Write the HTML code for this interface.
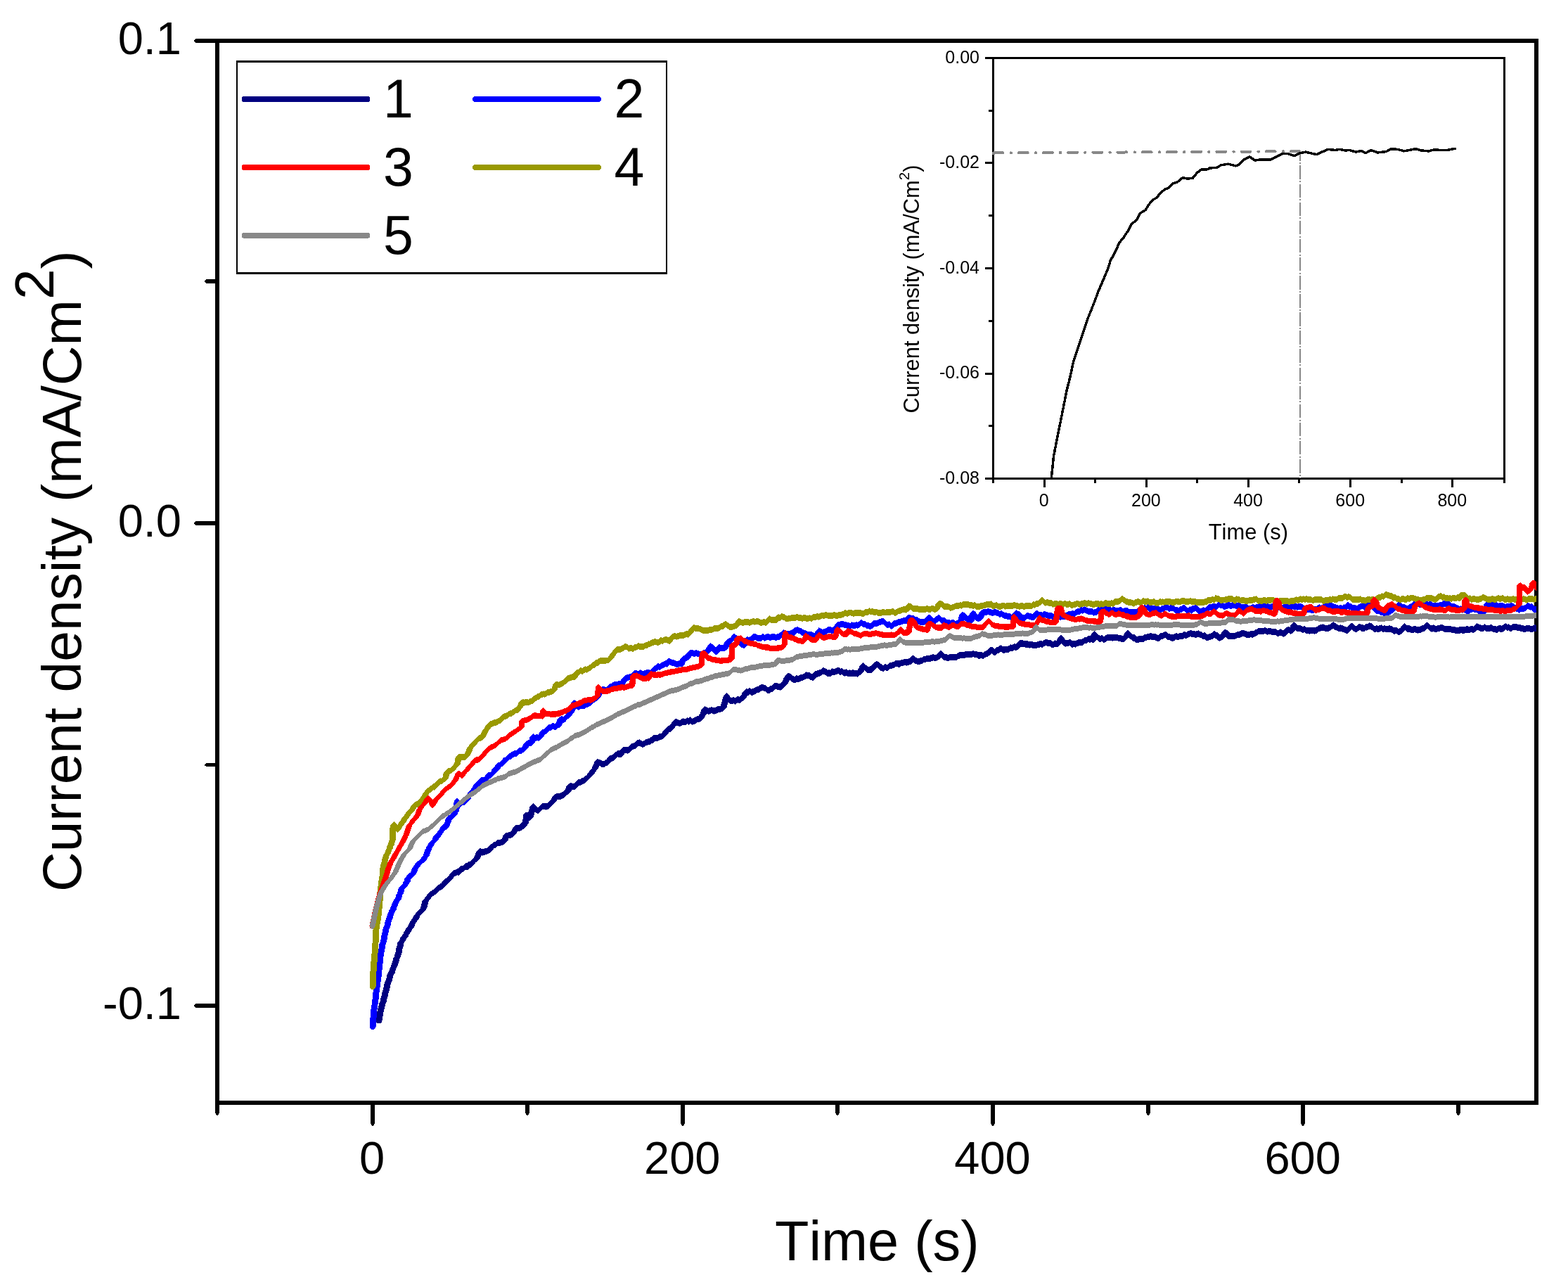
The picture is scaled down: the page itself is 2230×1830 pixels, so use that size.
<!DOCTYPE html>
<html lang="en">
<head>
<meta charset="utf-8">
<title>Current density vs. time</title>
<style>
html,body{margin:0;padding:0;background:#fff;}
body{width:2230px;height:1830px;overflow:hidden;}
svg{display:block;}
text{font-family:"Liberation Sans", sans-serif;fill:#000;font-kerning:none;}
.tk{font-size:65px;}
.ttl{font-size:79.3px;}
.ytl{font-size:78.5px;}
.lg{font-size:77px;}
.itk{font-size:25px;}
.ittl{font-size:30.9px;}
</style>
</head>
<body>
<svg width="2230" height="1830" viewBox="0 0 2230 1830" role="img" aria-label="Current density versus time for samples 1 to 5, with inset">
<rect x="0" y="0" width="2230" height="1830" fill="#ffffff"/>
<g id="main-axes" fill="#000" stroke="none" shape-rendering="crispEdges">
<rect x="306" y="55" width="1882" height="6"/><rect x="306" y="1565" width="1882" height="6"/><rect x="306" y="55" width="6" height="1516"/><rect x="2182" y="55" width="6" height="1516"/>
<rect x="278" y="55" width="31" height="6"/><rect x="276.5" y="56" width="1.5" height="4"/><rect x="275.5" y="57" width="1" height="2"/>
<rect x="293" y="397" width="16" height="6"/><rect x="291.5" y="398" width="1.5" height="4"/><rect x="290.5" y="399" width="1" height="2"/>
<rect x="278" y="741" width="31" height="6"/><rect x="276.5" y="742" width="1.5" height="4"/><rect x="275.5" y="743" width="1" height="2"/>
<rect x="293" y="1085" width="16" height="5"/><rect x="291.5" y="1086" width="1.5" height="3"/><rect x="290.5" y="1086.5" width="1" height="2"/>
<rect x="278" y="1427" width="31" height="6"/><rect x="276.5" y="1428" width="1.5" height="4"/><rect x="275.5" y="1429" width="1" height="2"/>
<rect x="306" y="1568" width="6" height="15"/><rect x="307" y="1583" width="4" height="1.5"/><rect x="308" y="1584.5" width="2" height="1"/>
<rect x="527" y="1568" width="6" height="30"/><rect x="528" y="1598" width="4" height="1.5"/><rect x="529" y="1599.5" width="2" height="1"/>
<rect x="747" y="1568" width="6" height="15"/><rect x="748" y="1583" width="4" height="1.5"/><rect x="749" y="1584.5" width="2" height="1"/>
<rect x="968" y="1568" width="6" height="30"/><rect x="969" y="1598" width="4" height="1.5"/><rect x="970" y="1599.5" width="2" height="1"/>
<rect x="1188" y="1568" width="6" height="15"/><rect x="1189" y="1583" width="4" height="1.5"/><rect x="1190" y="1584.5" width="2" height="1"/>
<rect x="1409" y="1568" width="6" height="30"/><rect x="1410" y="1598" width="4" height="1.5"/><rect x="1411" y="1599.5" width="2" height="1"/>
<rect x="1630" y="1568" width="6" height="15"/><rect x="1631" y="1583" width="4" height="1.5"/><rect x="1632" y="1584.5" width="2" height="1"/>
<rect x="1850" y="1568" width="6" height="30"/><rect x="1851" y="1598" width="4" height="1.5"/><rect x="1852" y="1599.5" width="2" height="1"/>
<rect x="2071" y="1568" width="6" height="15"/><rect x="2072" y="1583" width="4" height="1.5"/><rect x="2073" y="1584.5" width="2" height="1"/>
</g>
<g id="main-tick-labels" class="tk">
<text x="258" y="77.3" text-anchor="end">0.1</text>
<text x="258" y="763.3" text-anchor="end">0.0</text>
<text x="258" y="1449.3" text-anchor="end">-0.1</text>
<text x="529.1" y="1669" text-anchor="middle">0</text>
<text x="970.3" y="1669" text-anchor="middle">200</text>
<text x="1411.5" y="1669" text-anchor="middle">400</text>
<text x="1852.7" y="1669" text-anchor="middle">600</text>
</g>
<text class="ttl" x="1247.3" y="1791.5" text-anchor="middle">Time (s)</text>
<text class="ytl" transform="translate(114.7,1268) rotate(-90)" x="0" y="0">Current density (mA/Cm<tspan dy="-39">2</tspan><tspan dy="39">)</tspan></text>
<g id="curves" stroke="none" fill-rule="evenodd" shape-rendering="crispEdges">
<path id="c-navy" fill="#000080" d="M597.1 1292.3L595.9 1293.2L591.3 1297.8L590.4 1299.8L589.0 1301.2L587.9 1303.1L586.9 1305.6L585.6 1306.9L584.5 1308.6L581.1 1314.4L580.4 1316.7L577.9 1319.2L576.8 1320.9L576.2 1323.1L574.7 1324.6L573.6 1327.8L572.5 1329.0L571.3 1331.6L569.1 1333.8L568.1 1336.9L565.4 1340.0L564.6 1345.0L563.7 1346.9L562.5 1354.4L561.8 1355.5L561.1 1359.5L560.5 1360.7L559.7 1361.5L558.3 1367.0L557.6 1368.4L556.9 1372.0L556.2 1372.7L555.5 1375.2L554.4 1377.0L553.0 1381.9L551.9 1383.0L551.1 1384.6L550.4 1386.7L548.9 1393.3L548.2 1395.2L547.4 1396.0L547.0 1398.4L546.4 1399.0L545.9 1402.5L544.4 1408.5L543.9 1409.4L542.6 1416.0L541.9 1416.7L540.8 1423.4L540.5 1424.5L539.7 1425.3L538.6 1430.1L538.1 1431.0L537.0 1436.9L536.4 1438.0L536.1 1441.0L535.7 1441.5L534.4 1451.0L535.3 1453.4L535.9 1454.1L537.3 1455.1L539.0 1455.6L540.7 1455.1L542.1 1454.1L543.1 1452.7L543.6 1451.0L545.6 1438.0L546.2 1436.9L547.3 1431.0L547.8 1430.1L548.8 1426.0L549.5 1425.3L550.0 1423.4L551.0 1417.6L551.6 1417.0L553.1 1409.4L553.6 1408.5L555.1 1402.5L555.6 1399.3L556.1 1398.7L556.6 1396.1L557.4 1395.4L558.1 1393.3L559.6 1386.7L560.3 1384.8L561.9 1383.2L562.6 1380.0L563.6 1377.0L564.7 1375.2L565.4 1372.9L566.1 1372.2L566.8 1368.4L567.5 1367.0L568.9 1361.6L569.6 1360.9L570.3 1359.5L571.0 1355.5L571.7 1354.4L572.9 1346.9L573.8 1345.0L574.6 1340.0L577.1 1337.5L578.1 1334.5L579.6 1333.0L580.7 1331.4L581.7 1329.0L582.8 1327.8L583.3 1326.2L585.0 1324.6L585.8 1321.5L588.2 1319.2L589.3 1317.7L590.3 1314.4L593.7 1308.6L595.9 1306.1L597.1 1303.1L597.7 1302.0L599.3 1300.4L599.7 1299.6L604.9 1294.6L606.5 1292.0L607.2 1290.8L609.8 1281.2L612.2 1278.8L613.7 1276.0L615.4 1274.4L617.0 1273.4L618.9 1271.6L620.3 1271.6L625.1 1266.8L626.8 1265.4L628.5 1265.1L633.1 1260.5L633.9 1259.3L635.2 1258.0L638.8 1255.0L643.4 1250.4L644.6 1248.4L646.5 1246.2L647.5 1246.0L650.0 1244.4L652.6 1244.8L657.0 1240.4L658.0 1240.6L660.4 1238.3L662.7 1236.5L665.0 1237.0L668.0 1234.0L669.2 1234.0L671.3 1232.3L675.9 1227.7L676.6 1226.3L677.5 1226.1L682.1 1221.5L682.9 1219.6L684.0 1218.5L684.7 1215.8L686.9 1216.7L690.8 1215.0L692.7 1215.0L694.7 1213.6L696.2 1213.1L700.8 1208.5L702.8 1205.8L704.8 1206.1L707.9 1203.1L709.5 1202.7L711.8 1202.7L716.0 1201.1L718.1 1199.5L722.7 1194.9L723.4 1192.4L724.3 1191.7L726.6 1191.8L730.1 1189.5L734.7 1184.9L735.6 1182.5L738.9 1182.4L741.5 1180.8L743.8 1178.5L744.6 1178.9L749.2 1174.3L752.3 1170.0L752.6 1166.2L753.9 1166.8L759.1 1161.4L759.7 1157.4L760.6 1154.5L761.7 1155.4L763.2 1155.7L764.8 1157.4L766.4 1156.6L771.8 1151.1L773.7 1151.0L776.3 1151.7L778.9 1151.2L785.0 1145.2L791.3 1138.8L792.7 1137.1L796.6 1137.2L799.2 1135.6L801.0 1135.4L805.9 1130.5L806.6 1130.4L808.5 1129.4L813.1 1124.8L813.4 1122.8L816.3 1123.1L818.3 1122.3L823.3 1117.3L824.1 1116.9L826.1 1116.7L828.0 1115.3L831.9 1113.8L842.7 1102.9L844.1 1100.9L846.2 1098.9L847.7 1096.2L850.8 1092.4L852.0 1089.5L853.8 1089.4L855.6 1090.7L857.7 1091.0L859.8 1091.0L861.8 1089.2L863.8 1089.0L869.6 1082.9L871.7 1082.3L873.8 1080.8L877.4 1077.2L878.5 1076.4L881.1 1076.7L883.7 1076.7L888.3 1072.1L888.6 1071.2L890.9 1070.9L893.0 1072.0L898.9 1066.2L902.9 1065.0L905.0 1063.9L908.0 1060.9L909.4 1060.5L911.7 1062.2L914.1 1063.0L916.4 1061.9L918.3 1060.1L920.2 1060.2L922.0 1058.9L923.9 1059.5L926.1 1057.2L927.7 1057.5L931.1 1054.1L935.4 1054.3L937.3 1052.7L939.2 1051.8L941.1 1051.8L944.5 1048.8L950.6 1042.7L951.8 1040.6L953.8 1040.8L959.7 1034.9L960.4 1032.8L961.6 1031.6L962.7 1031.7L965.3 1032.8L967.9 1033.0L969.8 1031.3L971.6 1030.5L973.5 1031.0L975.4 1030.9L977.2 1029.1L979.6 1030.7L981.8 1028.5L984.3 1030.9L988.8 1029.0L991.0 1027.6L993.1 1026.8L995.3 1026.4L997.5 1025.2L1002.1 1020.6L1003.3 1017.0L1004.5 1015.8L1004.8 1014.7L1007.4 1015.9L1010.0 1015.1L1012.3 1014.0L1014.7 1015.6L1017.0 1015.4L1021.7 1013.1L1024.0 1012.9L1026.4 1011.9L1028.7 1011.2L1033.3 1006.6L1034.9 1000.0L1035.6 999.2L1035.7 998.7L1038.1 1001.1L1040.7 1001.0L1043.3 1000.3L1045.9 1001.8L1048.1 999.6L1050.2 999.4L1052.4 1000.3L1055.7 997.0L1056.8 997.2L1061.4 992.6L1062.1 990.3L1063.3 989.0L1063.8 989.3L1066.1 986.9L1068.5 988.7L1070.8 988.6L1076.7 985.4L1078.6 985.5L1080.9 983.2L1082.8 982.6L1084.8 981.6L1086.7 983.2L1088.6 983.3L1090.5 985.1L1092.3 986.4L1094.2 986.2L1096.6 983.9L1098.1 984.2L1102.3 980.0L1104.6 980.3L1109.8 981.6L1111.4 981.1L1120.6 972.0L1122.2 969.2L1122.8 966.7L1124.1 967.4L1126.6 969.9L1130.7 971.3L1132.9 969.3L1135.1 970.4L1137.2 969.1L1139.4 968.3L1141.8 967.8L1144.1 966.8L1146.5 964.6L1148.8 965.2L1150.7 964.8L1152.7 966.9L1154.6 967.5L1156.6 967.5L1161.2 963.0L1162.1 962.9L1164.2 961.9L1166.2 961.5L1168.6 960.1L1170.9 958.4L1175.1 960.2L1177.2 962.3L1179.1 961.3L1181.1 962.4L1183.7 959.7L1187.0 960.4L1189.1 959.0L1192.6 957.9L1195.1 960.4L1197.0 958.8L1199.0 960.7L1201.3 961.8L1203.7 960.6L1206.0 962.4L1208.3 961.5L1210.7 962.3L1213.0 961.5L1215.4 962.4L1217.7 962.3L1219.8 962.8L1222.8 959.8L1223.9 959.9L1228.5 955.3L1229.1 953.1L1231.7 955.7L1233.3 956.8L1235.4 957.0L1237.5 956.6L1239.5 956.8L1245.7 950.6L1246.1 949.7L1247.6 949.4L1251.6 953.5L1253.6 953.7L1256.2 955.3L1258.8 953.1L1261.4 954.5L1263.3 953.2L1265.3 951.2L1267.2 951.3L1271.5 949.8L1273.8 948.2L1276.4 948.3L1279.0 948.8L1281.6 947.4L1284.2 947.3L1286.8 945.7L1289.4 946.7L1291.5 945.8L1295.7 945.1L1299.2 941.6L1301.1 943.5L1303.1 944.1L1305.0 945.1L1307.1 945.4L1309.2 944.2L1311.3 944.3L1313.6 942.3L1316.0 942.1L1318.3 941.1L1320.6 941.2L1323.0 940.9L1325.3 939.8L1327.7 939.4L1330.0 940.4L1335.4 938.1L1338.6 935.0L1342.5 938.9L1347.1 939.7L1349.5 939.7L1351.8 938.9L1356.0 939.2L1358.1 938.9L1360.4 938.8L1362.7 937.1L1367.4 935.7L1370.0 936.1L1375.2 935.0L1379.6 935.4L1381.8 935.1L1384.0 934.2L1386.1 935.0L1388.7 934.9L1391.3 936.5L1393.9 936.5L1396.0 936.0L1398.1 937.0L1402.2 934.3L1404.3 934.1L1406.4 932.6L1410.2 928.9L1411.0 929.0L1413.7 931.8L1415.8 931.8L1418.3 929.3L1419.9 929.1L1422.0 927.2L1424.0 926.4L1426.2 928.5L1428.2 928.7L1430.6 927.8L1432.9 928.3L1435.3 927.3L1437.6 925.6L1439.9 926.0L1442.3 924.4L1444.6 924.9L1447.0 924.0L1451.5 919.5L1454.2 919.6L1458.9 920.6L1461.5 920.6L1464.1 921.7L1466.7 920.9L1469.3 921.8L1474.2 921.8L1478.9 920.6L1480.0 920.0L1482.3 920.9L1487.0 917.9L1489.4 918.5L1491.7 919.5L1494.0 919.1L1496.4 921.5L1498.7 920.8L1500.8 919.5L1502.9 920.2L1505.0 920.0L1509.6 915.4L1512.8 918.5L1515.3 919.6L1521.9 918.1L1524.7 920.9L1526.8 920.0L1529.4 920.7L1532.0 918.8L1538.5 917.9L1540.4 917.3L1542.4 915.4L1545.0 915.5L1547.6 913.2L1550.2 913.8L1552.5 913.0L1554.9 914.6L1559.5 909.8L1560.7 910.3L1562.7 912.3L1565.0 913.0L1567.3 911.8L1569.7 914.1L1572.0 913.0L1574.0 911.7L1575.9 910.9L1577.9 910.9L1579.8 910.7L1582.2 911.7L1584.5 911.0L1586.8 911.2L1589.2 910.7L1591.2 912.4L1593.3 911.9L1595.4 913.0L1597.5 913.3L1599.6 912.3L1605.1 906.6L1607.6 909.1L1609.4 909.9L1611.5 911.5L1613.3 911.5L1615.7 913.8L1618.3 914.0L1620.9 913.2L1623.5 913.0L1625.6 913.5L1627.9 911.2L1629.7 911.5L1632.1 909.7L1634.4 909.8L1636.7 909.4L1639.1 909.9L1643.0 910.3L1646.9 912.3L1648.7 911.6L1650.9 909.4L1652.5 909.4L1654.4 908.1L1657.6 907.1L1660.1 909.6L1662.1 909.9L1666.1 911.5L1668.2 911.7L1670.3 910.7L1672.6 909.0L1674.9 910.5L1677.3 909.4L1679.6 909.1L1682.0 909.6L1684.5 907.0L1686.6 908.3L1689.0 906.8L1691.1 906.3L1693.1 905.1L1695.2 906.0L1697.8 905.9L1700.4 907.1L1703.0 906.0L1705.0 905.6L1706.9 907.2L1708.9 907.2L1710.8 909.1L1713.3 908.3L1716.0 911.1L1718.6 910.7L1722.8 909.3L1724.8 908.4L1726.8 906.4L1729.0 908.7L1730.2 908.2L1732.6 910.7L1734.7 911.7L1738.9 909.9L1743.2 905.6L1746.7 909.2L1752.9 909.3L1755.3 909.1L1757.6 908.4L1759.9 907.0L1762.3 907.2L1764.6 905.9L1767.0 905.2L1769.3 905.1L1771.6 906.4L1776.3 907.6L1778.7 906.2L1781.0 906.7L1783.3 906.4L1785.7 904.5L1787.8 903.9L1790.1 901.6L1791.9 902.1L1796.6 902.0L1798.9 901.3L1800.0 901.6L1802.3 902.9L1804.7 901.8L1807.0 902.0L1809.4 903.2L1814.0 903.0L1816.4 905.1L1818.7 904.7L1821.1 903.4L1823.4 904.9L1825.7 905.7L1828.1 904.7L1832.6 900.2L1833.1 900.0L1835.3 902.2L1837.4 900.8L1842.0 896.2L1842.2 895.6L1845.2 898.5L1847.8 897.7L1853.0 900.0L1855.4 899.1L1857.7 901.3L1860.0 901.1L1862.4 901.6L1865.0 901.2L1870.2 901.6L1872.5 900.6L1874.9 898.5L1877.2 897.6L1881.9 896.6L1884.2 897.7L1886.8 897.9L1889.4 897.7L1892.0 896.9L1894.3 894.7L1895.1 894.4L1896.1 893.5L1898.3 895.6L1899.8 895.6L1901.4 896.9L1904.0 898.2L1906.6 897.6L1911.1 899.2L1913.1 900.4L1915.0 900.8L1917.0 900.8L1922.4 895.4L1923.3 895.4L1925.8 897.9L1927.9 899.3L1930.0 898.9L1932.0 896.8L1934.1 896.2L1936.2 897.6L1938.3 897.6L1940.4 898.5L1942.5 896.4L1943.9 896.8L1947.4 894.6L1950.9 895.8L1952.8 897.7L1955.2 899.3L1957.5 898.3L1959.9 898.9L1962.2 898.5L1964.5 897.4L1966.9 899.5L1969.2 898.1L1971.6 899.3L1976.2 898.5L1980.1 899.7L1982.1 901.6L1984.0 901.6L1986.4 900.8L1988.7 902.9L1991.0 902.6L1993.4 901.6L1998.0 897.0L1998.5 896.2L2000.9 898.6L2005.1 898.7L2007.4 900.2L2012.1 899.3L2014.4 899.7L2016.8 900.7L2021.5 899.3L2023.8 897.8L2026.1 897.7L2029.8 894.1L2030.1 894.1L2033.9 897.7L2036.3 898.7L2038.6 897.6L2040.9 898.7L2043.3 899.3L2045.2 897.9L2047.2 897.9L2049.1 896.8L2051.1 896.9L2055.2 899.4L2059.7 899.0L2060.0 898.7L2062.6 899.0L2065.2 900.1L2067.8 899.9L2069.8 900.7L2071.9 900.9L2073.9 900.9L2077.9 900.3L2080.3 900.7L2082.6 900.5L2085.0 899.7L2087.3 899.5L2089.9 900.4L2092.5 898.9L2095.1 899.9L2096.9 899.1L2100.5 895.6L2104.7 897.4L2109.1 898.3L2111.5 896.4L2113.8 898.0L2118.5 898.1L2120.8 897.1L2123.6 899.2L2126.3 899.1L2128.9 900.0L2131.5 898.3L2136.0 898.8L2138.0 898.0L2139.9 896.3L2141.6 895.3L2143.7 897.4L2145.4 896.4L2147.3 898.3L2149.4 898.4L2151.8 896.0L2153.6 896.0L2156.2 896.2L2158.8 897.0L2164.0 897.8L2166.6 898.6L2169.2 899.1L2171.8 897.9L2174.4 897.9L2177.0 899.1L2179.0 899.4L2181.1 897.9L2183.1 897.6L2185.0 897.9L2185.0 888.7L2183.1 888.4L2181.1 888.7L2179.0 890.2L2177.0 889.9L2174.4 888.7L2171.8 888.7L2169.2 889.9L2166.6 889.4L2164.0 888.6L2158.8 887.8L2156.2 887.0L2153.6 886.8L2151.5 886.8L2149.2 889.2L2147.5 889.1L2145.5 887.2L2144.0 888.1L2141.9 886.0L2139.9 887.1L2138.0 888.8L2136.0 889.6L2131.5 889.1L2128.9 890.8L2126.3 889.9L2123.6 890.0L2120.8 887.9L2118.5 888.9L2113.8 888.8L2111.5 887.2L2109.1 889.1L2104.7 888.2L2100.5 886.4L2096.9 889.9L2095.1 890.7L2092.5 889.7L2089.9 891.2L2087.3 890.3L2085.0 890.5L2082.6 891.3L2080.3 891.5L2077.9 891.1L2073.9 891.7L2069.8 891.5L2067.8 890.7L2065.2 890.9L2062.6 889.8L2060.0 889.5L2059.7 889.8L2055.2 890.2L2051.1 887.7L2049.1 887.6L2047.2 888.7L2045.2 888.7L2043.3 890.1L2040.9 889.5L2038.6 888.4L2036.3 889.5L2033.9 888.5L2030.3 885.0L2028.5 884.6L2024.5 888.6L2023.8 888.6L2021.5 890.1L2016.8 891.5L2014.4 890.5L2012.1 890.1L2007.4 891.0L2005.1 889.5L2001.2 889.4L1999.1 887.3L1997.3 886.2L1992.7 890.8L1991.7 893.1L1991.0 893.4L1988.7 893.7L1986.4 891.6L1984.0 892.4L1982.1 892.4L1980.1 890.5L1976.2 889.3L1971.6 890.1L1969.2 888.9L1966.9 890.3L1964.5 888.2L1962.2 889.3L1959.9 889.7L1957.5 889.1L1955.2 890.1L1953.0 888.6L1951.0 886.6L1947.4 885.4L1943.9 887.6L1942.1 887.1L1940.1 889.2L1938.3 888.4L1936.2 888.4L1934.1 887.0L1932.0 887.6L1930.0 889.7L1927.9 890.1L1927.0 889.5L1923.7 886.2L1921.6 886.2L1920.1 887.4L1915.9 891.6L1915.0 891.6L1913.1 891.2L1911.1 890.0L1906.6 888.4L1904.0 889.0L1901.4 887.7L1899.8 886.4L1899.2 886.4L1896.7 883.8L1895.1 885.2L1893.6 885.7L1891.4 887.9L1889.4 888.5L1886.8 888.7L1884.2 888.5L1881.9 887.4L1877.2 888.4L1874.9 889.3L1872.5 891.4L1870.2 892.4L1865.0 892.0L1862.4 892.4L1860.0 891.9L1857.7 892.1L1855.4 889.9L1853.0 890.8L1847.8 888.5L1845.8 889.1L1841.6 884.8L1839.8 884.6L1835.2 889.2L1834.5 891.9L1833.3 890.7L1829.6 892.3L1825.5 896.4L1823.4 895.7L1821.1 894.2L1818.7 895.5L1816.4 895.9L1814.0 893.8L1809.4 894.0L1807.0 892.8L1804.7 892.6L1802.3 893.7L1800.0 892.4L1798.9 892.1L1796.6 892.8L1791.9 892.9L1789.8 892.4L1787.3 894.8L1785.7 895.3L1783.3 897.2L1781.0 897.5L1778.7 897.0L1776.3 898.4L1771.6 897.2L1769.3 895.9L1767.0 896.0L1764.6 896.7L1762.3 898.0L1759.9 897.8L1757.6 899.2L1755.3 899.9L1750.6 900.1L1749.3 900.0L1745.1 895.9L1743.6 895.5L1742.0 894.5L1737.4 899.1L1736.4 901.8L1734.7 902.5L1730.8 898.8L1729.6 899.2L1727.2 896.8L1724.8 899.2L1722.8 900.1L1718.6 901.5L1716.2 901.9L1713.4 899.1L1710.8 899.9L1708.9 898.0L1706.9 898.0L1705.0 896.4L1703.0 896.8L1700.4 897.9L1697.8 896.7L1695.2 896.8L1693.1 895.9L1691.1 897.1L1689.0 897.6L1686.6 899.1L1684.3 897.7L1681.7 900.3L1679.6 899.9L1677.3 900.2L1674.9 901.3L1672.6 899.8L1670.3 901.5L1668.2 902.5L1666.1 902.3L1662.1 900.7L1661.0 900.5L1658.2 897.8L1654.4 898.9L1652.5 900.2L1650.6 900.2L1648.3 902.5L1646.9 903.1L1643.0 901.1L1639.1 900.7L1636.7 900.2L1634.4 900.6L1632.1 900.5L1629.7 902.3L1627.6 902.0L1625.4 904.3L1623.5 903.8L1620.9 904.0L1618.3 904.8L1616.0 904.6L1613.6 902.3L1611.5 902.3L1609.1 900.6L1604.0 895.3L1599.4 899.9L1597.5 904.1L1595.4 903.8L1593.3 902.7L1591.2 903.2L1589.2 901.5L1586.8 902.0L1584.5 901.8L1582.2 902.5L1579.8 901.5L1577.9 901.7L1575.9 901.7L1574.0 902.5L1572.0 903.8L1569.7 904.9L1567.3 902.6L1565.0 903.8L1563.1 903.2L1556.4 896.8L1551.8 901.4L1551.2 904.2L1550.2 904.6L1547.6 904.0L1545.0 906.3L1542.4 906.2L1540.4 908.1L1538.5 908.7L1532.0 909.6L1529.4 911.5L1526.8 910.8L1525.3 911.5L1522.6 908.8L1517.9 909.9L1515.1 910.3L1514.4 908.3L1513.5 906.9L1508.9 902.3L1504.3 906.9L1502.7 910.9L1500.8 910.3L1498.7 911.6L1496.4 912.3L1494.0 909.9L1491.7 910.3L1489.4 909.3L1487.0 908.7L1482.3 911.7L1480.0 910.8L1478.9 911.4L1474.2 912.6L1469.3 912.6L1466.7 911.7L1464.1 912.5L1461.5 911.4L1458.9 911.4L1454.2 910.4L1450.1 910.2L1444.4 915.7L1442.3 915.2L1439.9 916.8L1437.6 916.4L1435.3 918.1L1432.9 919.1L1430.6 918.6L1428.2 919.5L1426.2 919.3L1424.1 917.2L1422.0 918.0L1419.9 919.9L1417.8 920.2L1415.4 922.6L1414.2 922.6L1411.6 920.0L1409.5 919.5L1408.0 920.4L1403.3 925.0L1402.2 925.1L1398.1 927.8L1396.0 926.8L1393.9 927.3L1391.3 927.3L1388.7 925.7L1386.1 925.8L1384.0 925.0L1381.8 925.9L1379.6 926.2L1375.2 925.8L1370.0 926.9L1367.4 926.5L1362.7 927.9L1360.4 929.6L1358.1 929.7L1356.0 930.0L1351.8 929.7L1349.5 930.5L1347.1 930.5L1343.5 929.9L1338.8 925.4L1337.0 925.0L1331.6 930.6L1330.0 931.2L1327.7 930.2L1325.3 930.6L1323.0 931.7L1320.6 932.0L1318.3 931.9L1316.0 932.9L1313.6 933.1L1311.3 935.1L1309.2 935.0L1307.1 936.2L1305.0 935.9L1302.1 934.6L1299.2 931.7L1297.2 932.0L1292.8 936.4L1291.5 936.6L1289.4 937.5L1286.8 936.5L1284.2 938.1L1281.6 938.2L1279.0 939.6L1276.4 939.1L1273.8 939.0L1271.5 940.6L1267.2 942.1L1265.3 941.9L1263.1 944.1L1261.4 945.3L1258.8 943.9L1256.2 946.1L1253.6 944.5L1252.8 944.4L1249.7 941.3L1247.7 940.2L1244.2 940.9L1239.6 945.5L1238.0 947.4L1235.4 947.8L1233.7 947.6L1228.6 942.8L1227.1 942.1L1222.5 946.7L1221.7 949.6L1220.9 950.4L1220.1 952.3L1219.0 953.4L1217.7 953.1L1215.4 953.2L1213.0 952.3L1210.7 953.1L1208.3 952.3L1206.0 953.2L1203.7 951.4L1201.3 952.6L1199.0 951.5L1197.0 949.6L1195.5 950.9L1193.1 948.5L1189.1 949.8L1187.0 951.2L1183.0 950.4L1180.5 952.9L1179.1 952.1L1177.2 953.0L1175.1 951.0L1170.9 949.2L1168.6 950.9L1166.2 952.3L1164.2 952.7L1162.1 953.7L1160.0 953.8L1158.3 955.0L1155.0 958.3L1152.8 957.7L1150.7 955.6L1148.8 956.0L1146.5 955.4L1144.1 957.6L1141.8 958.6L1139.4 959.1L1137.2 959.9L1135.1 961.2L1132.9 960.1L1130.7 962.1L1126.9 960.8L1124.6 958.5L1122.7 957.4L1120.7 956.8L1116.1 961.4L1115.6 963.1L1114.6 964.2L1113.4 967.6L1109.9 971.2L1109.2 972.2L1104.6 971.1L1102.0 970.8L1097.7 974.9L1096.2 974.6L1093.6 977.1L1092.3 977.2L1090.5 975.9L1088.6 974.1L1086.7 974.0L1084.8 972.4L1082.8 973.4L1080.7 974.0L1078.5 976.3L1076.7 976.2L1070.8 979.4L1068.5 979.5L1066.1 977.7L1063.8 980.1L1061.5 978.6L1055.9 984.2L1054.6 987.6L1051.5 990.7L1050.2 990.2L1048.0 990.4L1045.9 992.6L1043.3 991.1L1040.7 991.8L1039.0 991.8L1038.0 989.4L1033.4 984.8L1028.8 989.4L1027.6 994.1L1027.0 995.0L1026.5 998.5L1025.9 999.2L1025.3 1002.1L1024.8 1003.4L1024.0 1003.7L1021.7 1003.9L1017.0 1006.2L1014.7 1006.4L1012.3 1004.8L1010.0 1005.9L1007.4 1006.7L1002.2 1004.3L997.6 1008.9L995.7 1014.6L994.5 1015.7L993.9 1017.5L991.0 1018.4L988.8 1019.8L984.5 1021.6L981.9 1019.0L979.5 1021.5L977.2 1019.9L975.4 1021.7L973.5 1021.8L971.6 1021.3L969.8 1022.1L967.9 1023.8L965.3 1023.6L962.7 1022.5L960.1 1022.3L955.5 1026.9L955.0 1028.0L951.6 1031.5L947.6 1034.7L943.0 1039.3L941.8 1042.0L941.1 1042.6L939.2 1042.6L937.3 1043.5L935.4 1045.1L931.6 1044.8L929.7 1045.1L926.6 1048.1L925.8 1048.0L923.6 1050.2L922.0 1049.7L920.2 1051.0L918.3 1050.9L916.4 1052.7L914.1 1053.8L911.7 1053.0L909.4 1051.3L907.1 1051.9L903.4 1055.6L900.8 1056.6L898.9 1057.0L892.7 1062.6L890.9 1061.7L888.9 1062.1L886.8 1061.3L882.2 1065.9L881.6 1067.5L878.5 1067.2L875.9 1069.1L871.7 1073.1L867.7 1074.1L863.1 1078.7L862.4 1079.9L861.8 1080.0L859.8 1081.8L857.7 1081.8L855.6 1081.5L853.8 1080.2L852.0 1080.3L850.1 1078.4L845.5 1083.0L844.8 1085.5L843.2 1088.6L841.6 1092.4L838.5 1096.2L837.3 1098.3L835.4 1100.2L834.5 1101.6L830.8 1105.0L828.0 1106.1L826.1 1107.5L824.1 1107.7L822.2 1108.6L817.4 1113.5L816.3 1113.9L814.2 1113.8L812.2 1113.2L810.1 1113.9L805.5 1118.5L805.0 1119.4L804.4 1121.8L800.0 1126.3L799.2 1126.4L796.6 1128.0L794.0 1127.7L791.4 1128.0L789.8 1129.1L785.2 1133.7L783.5 1137.0L778.1 1142.1L776.3 1142.5L773.7 1141.8L771.1 1142.0L764.9 1148.2L758.6 1142.0L753.4 1147.4L751.2 1155.4L750.3 1154.5L748.5 1154.5L743.9 1159.1L743.3 1168.9L743.0 1168.8L738.6 1173.2L733.7 1173.2L729.1 1177.8L728.2 1180.1L726.7 1181.5L726.3 1182.6L724.3 1182.5L722.0 1184.2L719.6 1184.1L715.0 1188.7L714.1 1192.7L711.8 1193.5L709.5 1193.5L707.1 1194.1L704.3 1196.9L702.5 1196.6L694.4 1204.5L692.7 1205.8L690.8 1205.8L686.9 1207.5L684.5 1206.5L682.2 1205.9L677.6 1210.5L675.7 1214.9L674.9 1218.1L668.3 1224.8L667.1 1224.8L664.3 1227.6L662.7 1227.3L660.4 1229.1L658.0 1231.4L655.7 1230.9L651.2 1235.4L650.0 1235.2L647.5 1236.8L645.0 1237.4L640.4 1242.0L638.0 1245.5L636.7 1246.8L635.2 1248.8L633.7 1249.0L629.1 1253.6L627.4 1256.1L626.8 1256.2L625.2 1257.6L623.5 1258.1L619.2 1262.4L618.7 1262.4L616.6 1264.5L615.4 1265.2L613.8 1266.6L612.2 1267.2L607.6 1271.8L606.1 1274.2L604.5 1276.0L603.5 1277.8L600.7 1280.6L600.0 1283.8L599.4 1285.6L598.0 1290.8Z"/>
<path id="c-blue" fill="#0000ff" d="M558.6 1282.6L557.8 1285.1L556.9 1286.1L556.3 1289.0L555.3 1289.9L554.6 1292.9L553.7 1293.9L552.1 1298.7L551.2 1299.5L550.0 1304.4L549.2 1305.2L547.3 1311.7L546.2 1317.8L545.4 1318.5L544.8 1319.9L543.7 1324.6L543.3 1328.2L542.8 1329.7L542.3 1330.2L541.4 1337.1L540.9 1337.7L540.5 1340.5L539.9 1341.0L539.5 1342.5L538.5 1349.4L538.0 1349.9L537.6 1353.4L537.1 1354.4L533.0 1393.7L531.9 1399.8L530.9 1409.7L530.6 1410.2L529.2 1424.2L528.8 1424.6L528.4 1430.5L528.0 1430.8L527.5 1434.8L525.5 1460.0L526.0 1461.6L527.0 1463.0L528.4 1464.0L530.0 1464.5L531.6 1464.0L533.0 1463.0L534.0 1461.6L534.5 1460.0L536.5 1434.8L537.0 1431.2L537.3 1430.9L537.7 1425.8L538.1 1425.4L539.6 1410.2L539.9 1409.7L540.9 1399.8L542.0 1393.7L543.7 1376.9L543.9 1376.7L544.1 1374.6L545.4 1359.6L545.7 1359.4L546.1 1354.4L546.6 1353.4L547.0 1350.0L547.5 1349.5L548.0 1347.1L548.5 1342.5L548.7 1341.8L549.4 1341.1L549.9 1337.7L550.4 1337.1L551.3 1330.3L551.8 1329.8L552.3 1328.2L552.7 1324.6L553.8 1319.9L555.1 1318.4L556.3 1311.7L557.9 1306.3L558.8 1305.4L560.2 1299.6L561.0 1298.8L562.4 1294.7L563.5 1293.6L564.2 1290.5L565.1 1289.6L565.9 1286.1L566.8 1285.1L567.6 1282.6L568.4 1281.6L568.8 1280.4L570.4 1278.8L571.5 1276.2L572.5 1272.5L574.2 1269.9L575.0 1265.6L575.8 1263.7L578.2 1261.4L581.5 1257.0L581.9 1255.5L583.5 1254.0L584.4 1249.9L586.6 1247.7L587.1 1247.8L591.6 1243.3L594.7 1235.8L595.3 1234.6L596.8 1233.1L597.6 1231.4L601.3 1227.4L602.3 1227.0L606.8 1222.5L608.1 1219.2L610.6 1216.6L611.8 1213.7L613.1 1209.0L614.2 1207.9L614.8 1205.0L616.5 1203.3L618.0 1199.8L623.7 1194.1L624.2 1192.3L626.2 1190.4L627.0 1188.4L629.0 1186.3L632.1 1181.1L633.1 1180.0L633.8 1180.6L638.3 1176.1L639.9 1173.1L640.7 1170.0L641.5 1169.0L642.1 1166.0L650.8 1157.5L651.4 1155.2L652.4 1154.3L653.1 1150.5L653.9 1149.7L654.0 1148.1L656.5 1145.7L660.4 1144.9L669.5 1135.7L670.7 1133.0L673.0 1130.6L673.5 1129.3L676.6 1126.3L677.7 1124.8L678.9 1121.6L681.0 1118.8L685.1 1114.6L685.8 1113.6L688.7 1113.7L690.6 1111.8L692.5 1111.3L696.5 1107.3L698.1 1106.4L700.0 1104.6L711.4 1093.1L712.2 1091.1L715.1 1089.2L719.7 1084.4L722.1 1082.6L724.5 1080.3L725.7 1080.4L728.5 1077.7L729.4 1077.6L731.2 1076.1L733.3 1076.2L735.3 1075.1L737.9 1072.5L739.5 1071.9L741.3 1071.7L743.1 1070.9L745.3 1068.8L746.8 1067.7L751.3 1063.2L752.1 1061.5L753.7 1061.4L756.1 1060.5L760.6 1056.0L761.2 1054.0L763.4 1053.2L766.0 1053.8L768.6 1052.1L773.1 1047.6L774.2 1046.2L774.6 1045.0L778.0 1042.8L781.9 1038.8L783.5 1039.3L786.1 1036.7L788.4 1037.6L790.5 1037.6L793.1 1035.0L794.6 1035.5L799.1 1031.0L800.1 1027.7L800.9 1028.1L802.9 1027.2L808.2 1021.7L808.8 1021.5L813.3 1017.0L814.4 1014.7L816.8 1012.3L817.6 1010.4L819.9 1008.1L819.9 1007.8L820.6 1008.5L822.7 1009.7L824.8 1008.5L826.8 1008.4L828.9 1007.3L831.0 1008.1L833.2 1005.9L835.2 1005.9L837.5 1005.1L839.8 1003.3L843.9 999.2L845.8 999.1L848.0 997.0L849.1 996.5L853.6 992.0L855.0 990.1L856.2 987.1L857.6 985.7L858.2 984.7L859.2 984.8L861.3 986.1L865.0 984.9L868.8 981.0L870.0 981.5L873.2 978.3L873.9 977.9L875.9 978.3L882.9 976.3L885.2 976.8L889.7 972.3L890.8 969.7L891.7 968.2L892.5 967.7L894.6 967.4L896.4 967.5L898.2 967.1L903.7 961.5L905.5 962.0L908.1 963.4L910.7 961.1L913.3 962.8L915.4 962.9L919.5 961.2L922.1 960.6L924.7 962.1L927.3 961.2L931.8 956.7L932.8 954.6L934.0 954.0L936.0 952.0L937.9 953.6L939.8 951.8L942.2 950.3L946.8 948.1L949.2 948.7L952.6 945.2L954.6 946.4L956.6 947.0L958.5 947.2L960.7 948.4L962.9 949.2L965.1 948.6L967.3 947.5L969.4 948.7L973.9 944.2L975.3 940.0L976.7 940.0L978.8 938.6L983.3 934.1L983.5 933.0L985.0 933.0L987.4 933.9L989.7 933.1L993.9 934.5L998.0 934.9L1000.1 933.3L1004.0 932.7L1005.8 931.7L1010.3 927.2L1012.0 924.9L1013.4 926.9L1017.9 931.4L1019.3 931.6L1023.8 927.1L1024.4 925.6L1024.8 925.9L1027.1 925.8L1029.5 926.5L1031.8 925.3L1036.3 920.8L1037.9 917.4L1038.2 915.9L1041.2 913.8L1044.3 910.7L1044.5 911.1L1052.5 919.0L1054.4 920.5L1056.4 920.8L1058.3 922.2L1064.0 916.4L1064.6 914.6L1065.1 915.0L1067.2 913.7L1069.3 914.4L1073.7 910.0L1076.3 911.0L1078.2 912.3L1082.5 911.6L1084.8 909.9L1087.2 911.8L1092.1 909.2L1094.7 911.4L1099.5 909.5L1101.7 910.0L1103.9 911.4L1106.1 909.4L1108.2 910.5L1111.3 907.5L1112.9 906.5L1114.9 904.6L1116.6 905.8L1120.7 905.8L1122.8 906.6L1124.9 904.8L1127.0 904.3L1128.9 904.6L1133.1 900.5L1134.8 900.4L1136.7 901.4L1138.3 901.6L1140.6 904.0L1142.6 904.3L1144.5 905.3L1146.5 905.5L1148.4 907.1L1150.3 906.6L1152.3 907.4L1154.2 907.2L1160.0 909.9L1165.7 904.3L1166.7 902.6L1169.9 903.8L1176.4 901.5L1178.3 899.7L1180.3 899.8L1186.5 902.1L1191.0 897.6L1192.2 895.8L1192.6 894.6L1194.2 892.9L1196.4 892.2L1199.0 892.0L1200.9 893.5L1202.9 893.3L1209.1 894.9L1211.5 893.0L1213.8 894.4L1216.1 894.3L1218.1 893.1L1220.0 893.7L1222.0 892.7L1224.2 890.4L1225.9 890.5L1227.8 891.9L1229.8 891.6L1231.7 893.5L1234.3 893.6L1236.9 895.0L1239.5 894.3L1241.1 893.6L1244.1 890.6L1247.3 891.2L1249.7 889.5L1252.0 888.9L1254.4 887.5L1256.4 888.0L1260.9 892.5L1262.9 892.8L1264.7 892.2L1267.1 894.6L1269.2 894.3L1272.3 891.2L1275.4 890.4L1277.5 888.8L1279.6 889.4L1281.6 888.1L1284.2 887.3L1286.8 887.1L1289.4 887.3L1293.8 883.0L1295.3 884.1L1297.2 884.2L1299.1 883.8L1301.0 885.8L1302.9 885.8L1304.7 886.4L1306.6 888.1L1309.2 888.7L1311.8 888.9L1314.4 889.6L1320.7 883.4L1322.6 883.5L1326.5 887.3L1328.4 888.1L1330.0 887.1L1331.7 885.4L1333.1 885.0L1335.1 883.1L1338.8 886.8L1340.9 887.3L1343.2 887.1L1345.6 889.2L1347.9 890.0L1350.3 889.6L1352.4 891.2L1354.6 889.7L1356.8 890.0L1359.0 892.1L1361.2 891.2L1363.6 888.8L1365.9 888.1L1371.1 882.7L1371.4 881.8L1372.1 882.5L1372.9 882.6L1375.2 885.0L1376.8 884.4L1379.4 887.0L1381.5 886.5L1386.0 882.0L1386.3 880.4L1389.3 883.4L1391.6 883.9L1393.9 883.4L1399.2 878.2L1400.0 876.4L1400.2 875.1L1402.2 875.3L1404.8 874.0L1407.4 874.6L1410.0 875.6L1412.6 875.6L1415.0 875.2L1417.3 875.5L1419.7 876.2L1422.0 877.9L1424.3 877.1L1426.7 879.3L1431.4 880.3L1433.3 881.3L1435.3 880.8L1437.2 881.7L1439.2 883.4L1445.7 877.2L1451.6 883.2L1453.2 883.4L1455.5 882.5L1457.9 882.6L1460.2 880.5L1462.6 880.3L1466.5 881.5L1468.4 881.8L1470.3 882.6L1475.6 877.2L1477.0 878.5L1478.9 879.5L1480.0 878.6L1482.3 879.7L1484.7 877.7L1487.0 878.5L1489.4 878.6L1491.2 880.1L1493.1 879.9L1495.0 880.0L1496.8 880.7L1498.7 882.5L1503.4 881.7L1505.6 879.8L1507.8 882.0L1512.3 880.6L1514.5 880.6L1516.8 879.5L1521.2 877.7L1523.4 877.7L1525.5 876.8L1527.7 877.6L1529.9 875.5L1533.0 873.9L1535.4 874.1L1537.8 871.7L1540.0 872.8L1542.4 870.8L1544.3 872.3L1548.2 874.1L1552.8 873.9L1555.4 875.7L1558.0 874.7L1559.5 874.6L1563.1 871.0L1564.8 871.5L1567.0 871.3L1569.2 870.1L1571.4 870.9L1575.5 869.5L1577.5 871.1L1581.4 873.2L1583.6 871.5L1587.9 873.1L1590.1 872.9L1594.6 871.8L1597.0 874.1L1599.3 873.5L1601.6 873.2L1603.6 873.3L1605.5 874.8L1609.4 875.5L1612.0 875.3L1614.6 874.7L1617.2 874.7L1618.8 874.3L1622.4 870.6L1626.2 869.9L1628.2 868.5L1630.2 870.4L1632.5 868.2L1634.4 870.0L1639.6 870.2L1642.2 869.3L1644.1 869.3L1646.1 870.5L1647.9 870.3L1650.0 872.4L1652.1 870.4L1656.2 869.3L1658.4 867.9L1660.6 868.2L1662.8 870.0L1665.0 868.8L1667.1 868.5L1668.3 869.1L1671.0 871.8L1673.0 871.6L1676.9 873.1L1678.8 871.2L1680.8 871.0L1682.7 869.3L1684.2 869.0L1686.6 871.5L1688.6 873.0L1690.5 873.2L1692.5 871.2L1694.3 872.9L1697.3 869.9L1698.0 870.0L1699.9 869.3L1701.3 869.7L1704.1 872.4L1706.1 873.9L1708.7 874.0L1711.3 872.1L1713.9 873.2L1715.5 873.1L1720.0 868.6L1720.5 867.7L1722.5 868.0L1724.8 867.3L1727.2 867.1L1729.5 867.7L1731.5 866.2L1733.7 863.9L1735.6 864.8L1737.7 864.7L1739.9 866.8L1742.0 866.9L1746.7 865.1L1751.4 866.1L1753.7 864.6L1756.0 864.7L1758.4 866.3L1760.7 865.4L1763.1 865.6L1765.4 867.7L1770.1 867.7L1771.8 867.0L1774.8 870.0L1777.1 870.2L1779.4 869.3L1781.8 867.6L1784.1 869.7L1786.5 867.9L1791.1 867.2L1793.5 868.3L1796.0 865.8L1802.3 866.7L1804.7 868.1L1809.4 867.2L1811.4 867.3L1813.4 869.1L1817.4 868.4L1819.4 867.2L1821.4 868.9L1826.0 868.4L1828.6 867.3L1831.2 868.0L1833.5 866.4L1835.9 867.7L1838.2 866.3L1840.5 867.2L1842.9 867.0L1845.2 867.7L1847.6 867.1L1849.9 867.2L1852.2 868.0L1854.6 870.3L1856.8 870.7L1859.0 870.3L1861.3 871.5L1863.5 870.9L1865.7 872.4L1868.0 872.3L1870.2 871.1L1872.3 871.2L1874.4 869.1L1876.4 868.1L1878.5 869.8L1882.7 867.8L1884.7 866.4L1886.8 865.6L1888.9 865.6L1891.0 866.5L1895.1 866.4L1899.3 868.4L1901.4 868.8L1904.0 870.0L1906.6 868.9L1909.2 870.3L1911.2 868.3L1913.1 869.0L1917.0 865.5L1919.0 867.6L1920.5 866.9L1923.2 869.5L1925.3 868.5L1929.4 870.3L1931.5 868.8L1933.6 868.1L1935.7 866.4L1938.0 866.0L1940.4 868.0L1945.2 863.2L1947.4 862.4L1957.5 872.7L1959.6 873.4L1961.7 873.3L1963.8 875.0L1966.4 875.0L1969.0 876.8L1971.6 876.6L1973.6 876.8L1976.5 873.9L1977.8 874.2L1980.2 871.8L1980.9 872.0L1984.6 868.3L1986.6 867.2L1989.0 864.9L1990.8 865.0L1992.9 866.7L1994.9 868.0L1997.5 867.8L2000.1 869.9L2002.7 869.5L2004.7 867.8L2008.6 866.9L2012.0 863.5L2012.9 863.2L2017.2 863.4L2021.2 864.6L2023.2 863.1L2025.2 862.9L2027.2 862.1L2029.3 863.3L2031.2 865.0L2033.2 863.2L2035.1 863.8L2037.1 865.6L2039.4 865.8L2041.7 865.6L2044.1 866.2L2046.4 865.6L2048.7 864.5L2051.1 865.3L2053.7 862.7L2059.7 864.1L2060.1 863.7L2063.1 866.7L2064.7 867.8L2067.0 866.8L2071.7 868.6L2073.6 870.0L2075.6 870.7L2077.5 870.3L2079.5 871.7L2081.8 871.1L2086.5 873.3L2088.6 873.3L2090.7 871.6L2092.8 871.3L2094.8 869.9L2096.9 871.4L2099.0 870.5L2101.1 871.5L2103.1 873.3L2105.2 872.9L2108.0 875.0L2110.7 874.4L2116.7 868.6L2118.3 864.9L2118.5 863.8L2118.7 863.6L2120.8 864.3L2122.9 863.6L2127.1 863.9L2129.4 866.0L2131.7 866.6L2136.4 866.0L2141.1 867.8L2143.4 867.0L2145.8 867.0L2149.7 866.2L2151.8 866.9L2155.9 869.4L2158.3 870.2L2160.6 871.7L2162.9 870.0L2165.3 870.3L2169.9 868.7L2172.4 866.3L2174.4 866.6L2176.4 867.8L2178.0 867.2L2181.6 870.9L2185.0 871.3L2185.0 862.3L2182.5 862.0L2178.5 858.0L2176.4 858.8L2174.4 857.6L2172.3 857.2L2169.8 859.7L2165.3 861.3L2162.9 861.0L2160.6 862.7L2158.3 861.2L2155.9 860.4L2151.8 857.9L2149.7 857.2L2145.8 858.0L2143.4 858.0L2141.1 858.8L2136.4 857.0L2131.7 857.6L2129.4 857.0L2127.1 854.9L2122.9 854.6L2120.8 855.3L2118.7 854.6L2116.7 855.9L2114.6 854.9L2110.1 859.4L2109.3 864.9L2108.9 865.8L2108.0 866.0L2105.2 863.9L2103.1 864.3L2101.1 862.5L2099.0 861.5L2096.9 862.4L2094.8 860.9L2092.8 862.3L2090.7 862.6L2088.6 864.3L2086.5 864.3L2081.8 862.1L2079.5 862.7L2077.5 861.3L2075.6 861.7L2073.6 861.0L2071.7 859.6L2067.0 857.8L2065.3 858.5L2061.6 854.8L2060.0 854.1L2059.1 855.0L2053.4 853.6L2050.8 856.2L2048.7 855.5L2046.4 856.6L2044.1 857.2L2041.7 856.6L2039.4 856.8L2037.1 856.6L2035.1 854.8L2033.2 854.2L2031.2 856.0L2029.3 854.3L2027.2 853.1L2025.2 853.9L2023.2 854.1L2021.2 855.6L2017.2 854.4L2012.9 854.2L2010.5 855.1L2007.5 858.1L2004.7 858.8L2002.7 860.5L2000.1 860.9L1997.5 858.8L1994.9 859.0L1992.9 857.7L1990.8 856.0L1988.7 855.9L1986.0 858.6L1982.5 860.5L1980.2 862.8L1979.3 862.5L1976.9 865.0L1975.7 864.7L1972.7 867.7L1971.6 867.6L1969.0 867.8L1966.4 866.0L1963.8 866.0L1961.7 864.3L1959.6 864.4L1958.3 863.9L1955.3 861.1L1954.2 859.6L1949.7 855.1L1947.4 853.4L1945.0 854.3L1943.5 854.6L1939.7 858.4L1938.0 857.0L1935.7 857.4L1933.6 859.1L1931.5 859.8L1929.4 861.3L1925.3 859.5L1923.8 860.2L1921.1 857.6L1919.5 858.4L1917.0 855.9L1912.9 859.9L1911.1 859.2L1909.1 861.3L1906.6 859.9L1904.0 861.0L1901.4 859.8L1899.3 859.4L1895.1 857.4L1891.0 857.5L1888.9 856.6L1886.8 856.6L1884.7 857.4L1882.7 858.8L1878.5 860.8L1876.4 859.1L1874.3 860.1L1872.2 862.2L1870.2 862.1L1868.0 863.3L1865.7 863.4L1863.5 861.9L1861.3 862.5L1859.0 861.3L1856.8 861.7L1854.6 861.3L1852.2 859.0L1849.9 858.2L1847.6 858.1L1845.2 858.7L1842.9 858.0L1840.5 858.2L1838.2 857.3L1835.9 858.7L1833.5 857.4L1831.2 859.0L1828.6 858.3L1826.0 859.4L1821.4 859.9L1819.4 858.2L1817.4 859.4L1813.4 860.1L1811.4 858.3L1809.4 858.2L1804.7 859.1L1802.3 857.7L1795.8 856.8L1793.3 859.3L1791.1 858.2L1786.5 858.9L1784.1 860.7L1781.8 858.6L1779.4 860.3L1777.1 861.2L1775.7 861.1L1772.4 857.7L1770.1 858.7L1765.4 858.7L1763.1 856.6L1760.7 856.4L1758.4 857.3L1756.0 855.7L1753.7 855.6L1751.4 857.1L1746.7 856.1L1742.0 857.9L1739.9 857.8L1737.7 855.7L1735.6 855.8L1733.4 854.8L1729.5 858.7L1727.2 858.1L1724.8 858.3L1722.5 859.0L1720.2 858.7L1718.6 860.1L1717.1 861.2L1714.1 864.2L1711.3 863.1L1708.7 865.0L1706.1 864.9L1702.0 860.8L1699.9 860.3L1698.0 861.0L1696.2 860.8L1693.7 863.3L1692.4 862.0L1690.3 864.1L1688.7 864.0L1684.7 860.0L1682.7 860.3L1680.8 862.0L1678.8 862.2L1676.9 864.1L1673.0 862.6L1671.4 862.8L1669.1 860.5L1667.1 859.5L1665.0 859.8L1662.8 861.0L1660.6 859.2L1658.4 858.9L1656.2 860.3L1652.1 861.4L1650.1 863.3L1648.0 861.3L1646.1 861.5L1644.1 860.3L1642.2 860.3L1639.6 861.2L1634.4 861.0L1632.3 859.1L1630.1 861.3L1628.2 859.5L1626.2 860.9L1622.3 861.7L1620.4 861.8L1616.5 865.7L1614.6 865.7L1612.0 866.3L1609.4 866.5L1605.5 865.8L1603.6 864.3L1601.6 864.2L1599.3 864.5L1597.0 865.1L1594.6 862.8L1590.1 863.9L1587.9 864.1L1583.6 862.5L1581.4 864.2L1577.5 862.1L1575.5 860.5L1571.4 861.9L1569.2 861.1L1567.0 862.3L1564.8 862.5L1562.7 861.8L1558.8 865.6L1558.0 865.7L1555.4 866.7L1552.8 864.9L1548.2 865.1L1544.3 863.3L1542.4 861.8L1540.0 863.8L1537.7 862.7L1535.3 865.1L1533.0 864.9L1529.9 866.5L1527.7 868.6L1525.5 867.8L1523.4 868.7L1521.2 868.7L1516.8 870.5L1514.5 871.6L1512.3 871.6L1507.8 873.0L1505.6 870.8L1503.4 872.7L1498.7 873.5L1496.8 871.7L1495.0 871.0L1493.1 870.9L1491.2 871.1L1489.4 869.6L1487.0 869.5L1484.7 868.7L1482.3 870.7L1480.0 869.6L1478.9 870.5L1477.4 869.7L1475.0 867.4L1473.5 868.0L1469.0 872.5L1468.8 873.0L1462.6 871.3L1460.2 871.5L1457.9 873.6L1455.5 873.5L1454.1 874.0L1448.5 868.5L1447.8 869.0L1445.4 866.6L1438.5 873.8L1437.2 872.7L1435.3 871.8L1433.3 872.3L1431.4 871.3L1426.7 870.3L1424.3 868.1L1422.0 868.9L1419.7 867.2L1417.3 866.5L1415.0 866.2L1412.6 866.6L1410.0 866.6L1407.4 865.6L1404.8 865.0L1402.2 866.3L1399.7 866.1L1397.1 866.6L1391.8 871.9L1391.3 874.5L1386.5 869.4L1386.0 869.5L1383.8 867.4L1379.3 871.9L1378.4 874.8L1378.2 876.2L1377.3 875.3L1375.8 875.8L1370.5 870.5L1369.0 869.7L1364.5 874.2L1363.7 875.5L1362.8 880.5L1361.1 882.2L1359.0 883.1L1356.8 881.0L1354.6 880.7L1352.4 882.2L1350.3 880.6L1347.9 881.0L1345.6 880.2L1343.2 878.1L1340.9 878.3L1339.1 877.9L1334.7 873.6L1332.0 876.3L1331.6 876.4L1329.7 878.3L1328.4 879.1L1327.3 878.6L1324.5 875.8L1322.6 874.5L1320.6 874.4L1314.1 880.6L1311.8 879.9L1309.2 879.7L1306.6 879.1L1304.7 877.4L1302.9 876.8L1301.1 876.8L1299.1 874.8L1297.2 875.2L1295.3 875.1L1293.3 873.6L1292.0 874.0L1287.8 878.2L1284.2 878.3L1281.6 879.1L1279.6 880.4L1277.5 879.8L1275.4 881.4L1273.3 881.8L1271.2 882.6L1268.4 885.4L1267.4 885.6L1265.0 883.2L1262.9 883.8L1261.3 883.5L1256.7 879.1L1254.4 878.5L1252.0 879.9L1249.7 880.5L1247.3 882.2L1242.7 881.4L1238.5 885.6L1236.9 886.0L1234.3 884.6L1231.7 884.5L1229.8 882.6L1227.8 882.9L1225.9 881.5L1223.9 881.4L1221.3 884.0L1220.0 884.7L1218.1 884.1L1216.1 885.3L1213.8 885.4L1211.5 884.0L1209.1 885.9L1202.9 884.3L1200.9 884.5L1199.0 883.0L1196.4 883.2L1193.8 884.1L1191.2 884.5L1186.7 889.0L1186.4 889.8L1184.4 891.9L1184.2 892.3L1180.3 890.8L1178.3 890.7L1176.4 892.5L1169.9 894.8L1167.3 893.9L1164.7 892.3L1159.0 898.1L1158.5 900.1L1154.2 898.2L1152.3 898.4L1150.3 897.6L1148.4 898.1L1146.5 896.5L1144.5 896.3L1142.6 895.3L1141.0 895.0L1138.7 892.7L1136.7 892.4L1134.8 891.4L1132.8 891.5L1130.9 892.1L1127.6 895.4L1127.0 895.3L1124.9 895.8L1122.8 897.6L1120.7 896.8L1116.6 896.8L1114.5 895.3L1111.3 898.5L1109.8 898.9L1107.5 901.2L1106.1 900.4L1103.9 902.4L1101.7 901.0L1099.5 900.5L1094.7 902.4L1092.1 900.2L1087.2 902.8L1084.8 900.9L1082.5 902.6L1078.2 903.3L1074.3 901.1L1072.4 900.7L1070.8 901.8L1067.7 904.9L1067.2 904.7L1065.1 906.0L1063.0 904.6L1058.5 909.1L1057.8 911.3L1056.9 912.1L1056.4 911.8L1055.1 911.6L1052.6 909.0L1051.9 907.5L1047.4 903.0L1046.5 903.0L1044.3 900.7L1039.8 905.2L1038.7 906.6L1034.9 908.5L1030.4 913.0L1029.7 914.1L1028.9 917.3L1027.1 916.8L1024.8 916.9L1022.5 915.5L1018.0 920.1L1013.6 915.7L1012.7 915.9L1010.8 914.0L1006.3 918.5L1005.9 919.7L1004.2 921.4L1003.4 923.8L1000.1 924.3L998.0 925.9L993.9 925.5L989.7 924.1L987.4 924.9L985.0 924.0L982.7 924.0L980.4 924.9L975.9 929.4L975.0 931.0L971.8 932.4L967.3 936.9L966.7 938.8L965.1 939.6L962.9 940.2L960.7 939.4L958.5 938.2L956.6 938.0L954.6 937.4L952.7 936.2L950.7 935.8L947.3 939.3L946.8 939.1L942.2 941.3L939.8 942.8L937.9 944.6L935.9 943.0L933.7 945.1L930.5 946.9L924.6 953.0L922.1 951.6L919.5 952.2L915.4 953.9L913.3 953.8L910.7 952.1L908.1 954.4L905.5 953.0L903.7 952.5L901.9 953.5L897.0 958.4L892.5 958.7L890.4 960.0L888.3 960.8L883.8 965.3L883.0 967.4L875.9 969.3L873.9 968.9L872.0 969.8L869.6 972.3L868.1 971.7L863.5 976.3L861.3 977.1L859.2 975.8L857.2 975.6L855.8 976.3L851.3 980.8L848.8 985.4L847.3 986.9L846.1 989.7L845.7 990.2L843.9 990.2L841.9 990.7L836.2 996.5L835.2 996.9L833.1 996.9L830.9 999.0L828.9 998.3L826.8 999.4L824.8 999.5L822.8 1000.6L818.5 996.4L816.4 995.3L811.9 999.8L811.0 1007.1L809.3 1008.7L808.4 1011.0L806.1 1013.3L805.4 1014.7L802.6 1017.5L801.8 1018.7L800.9 1019.1L798.8 1018.1L796.7 1019.2L792.2 1023.7L791.3 1027.1L789.7 1028.6L788.4 1028.6L785.9 1027.7L783.4 1030.2L781.1 1029.6L775.7 1035.2L773.8 1036.6L771.7 1036.9L767.2 1041.4L766.2 1043.1L765.7 1044.7L763.4 1044.2L760.8 1045.1L758.2 1043.1L753.7 1047.6L753.2 1050.0L752.7 1050.5L752.4 1052.4L751.3 1052.5L748.9 1053.5L744.4 1058.0L742.8 1062.0L741.3 1062.7L739.5 1062.9L737.4 1063.7L734.6 1066.5L733.3 1067.2L731.2 1067.1L729.4 1068.6L727.6 1068.7L724.9 1071.3L723.9 1071.2L718.5 1076.6L716.6 1077.4L710.4 1083.7L708.7 1084.1L704.2 1088.6L703.5 1090.5L699.4 1094.5L698.4 1096.8L697.4 1097.8L696.2 1098.4L694.4 1098.2L689.9 1102.7L689.2 1104.2L688.7 1104.7L685.3 1104.5L683.8 1105.9L673.0 1117.0L671.5 1119.8L669.9 1121.6L669.2 1123.6L665.2 1127.6L664.1 1130.6L658.8 1136.2L656.5 1136.7L654.5 1138.5L650.2 1134.3L645.7 1138.8L644.9 1149.6L644.2 1150.4L643.5 1153.7L642.6 1154.6L642.2 1156.1L639.5 1159.0L638.5 1159.3L634.0 1163.8L633.2 1165.4L632.5 1169.0L631.7 1170.0L631.4 1171.3L626.2 1176.6L624.7 1179.3L623.1 1181.1L621.0 1184.6L615.9 1190.0L615.0 1193.2L610.6 1197.5L609.1 1199.7L607.9 1202.3L606.0 1204.3L605.4 1207.0L604.4 1207.9L602.8 1213.7L601.8 1216.2L599.1 1219.2L598.5 1220.8L595.4 1223.8L594.9 1224.0L590.4 1228.5L588.8 1230.8L588.1 1232.3L586.7 1233.7L583.5 1241.0L582.7 1241.1L578.2 1245.6L575.5 1249.4L574.9 1252.2L573.5 1253.6L572.5 1257.0L567.5 1262.0L566.0 1265.6L565.2 1269.9L563.5 1272.5L562.1 1277.1L560.4 1278.8L559.4 1281.6Z"/>
<path id="c-olive" fill="#999900" d="M541.0 1230.7L540.5 1233.9L540.0 1243.0L539.7 1243.9L539.4 1247.7L538.4 1252.1L537.5 1259.7L537.0 1261.6L535.7 1280.1L533.5 1302.4L532.3 1311.6L531.9 1311.9L531.6 1313.6L531.3 1317.5L531.0 1318.1L530.3 1323.2L529.4 1343.1L528.1 1361.3L527.9 1361.5L526.2 1385.6L525.5 1403.0L526.1 1404.6L527.0 1406.0L528.4 1406.9L530.0 1407.5L531.6 1406.9L533.0 1406.0L533.9 1404.6L534.5 1403.0L535.2 1385.6L538.4 1343.1L539.2 1323.2L539.9 1318.1L540.2 1317.5L540.5 1313.6L540.8 1311.9L541.2 1311.6L542.5 1302.4L544.6 1280.1L545.9 1261.6L546.4 1259.7L547.3 1252.1L548.3 1247.7L548.6 1243.9L549.0 1243.0L549.4 1233.9L549.9 1230.7L551.4 1226.5L551.8 1222.9L552.3 1222.1L552.8 1219.5L554.2 1215.5L555.0 1214.1L556.1 1213.1L557.0 1209.5L558.0 1207.4L558.8 1206.6L559.4 1203.3L560.3 1202.4L561.9 1196.2L562.7 1194.9L563.2 1181.9L564.7 1183.4L566.0 1183.8L570.5 1179.3L571.5 1177.5L572.3 1175.1L574.8 1172.7L575.6 1170.8L577.3 1169.0L579.8 1164.3L581.5 1162.6L584.3 1158.6L585.7 1157.1L586.2 1155.9L590.0 1152.1L591.5 1150.0L592.3 1147.9L594.3 1148.5L603.5 1139.5L604.8 1136.5L606.1 1135.2L607.4 1133.4L610.2 1128.3L610.9 1127.5L612.3 1126.9L614.2 1125.7L616.7 1123.2L617.9 1123.7L622.4 1119.3L625.1 1116.0L626.0 1115.2L627.8 1115.5L630.3 1113.1L631.3 1112.6L633.1 1111.3L637.5 1106.8L638.1 1105.9L639.4 1100.6L641.3 1100.3L643.9 1097.6L645.0 1097.1L649.4 1092.6L651.8 1089.5L654.7 1086.6L656.0 1081.3L656.9 1081.4L659.1 1080.8L661.3 1080.7L663.5 1079.3L669.0 1073.9L670.0 1070.8L671.0 1069.4L673.1 1063.5L673.6 1063.4L678.1 1058.9L679.5 1056.4L682.1 1053.9L683.1 1053.8L685.0 1053.0L691.3 1046.8L693.2 1042.3L694.1 1040.9L695.1 1038.8L695.7 1037.8L697.6 1036.0L698.5 1033.8L700.0 1033.4L702.1 1032.2L704.2 1032.5L706.2 1031.3L708.1 1030.7L709.9 1029.1L711.7 1028.6L717.4 1022.7L719.1 1022.9L722.9 1020.9L725.0 1019.0L727.0 1019.3L729.1 1017.3L731.2 1016.7L733.6 1014.3L734.5 1013.8L736.2 1014.2L740.6 1009.8L740.9 1009.1L744.0 1006.0L744.7 1003.4L745.7 1003.6L747.8 1002.7L752.0 1003.6L754.1 1001.7L756.1 1001.4L758.2 1000.1L760.7 997.6L762.9 996.5L764.5 994.9L766.5 995.0L769.2 992.3L770.7 992.1L772.8 991.3L774.9 991.6L776.9 990.9L779.3 988.6L781.1 988.7L783.5 987.7L785.9 987.3L788.4 985.5L792.8 981.1L793.5 978.3L795.1 978.6L797.5 976.9L799.8 976.2L801.5 975.2L804.1 972.6L804.8 972.5L808.4 968.8L810.5 968.4L815.1 966.8L817.5 966.8L821.9 962.4L822.7 960.4L826.2 957.7L828.1 959.1L830.0 957.5L832.4 956.0L834.8 957.0L837.2 954.9L841.9 952.1L844.1 949.9L845.8 949.7L848.4 947.2L849.7 947.4L853.6 943.7L860.0 944.3L862.1 943.4L864.3 943.5L866.5 942.4L871.0 938.0L872.4 935.8L874.1 934.1L877.2 929.2L878.0 928.3L879.8 928.1L882.1 928.4L884.2 926.6L886.3 926.1L888.7 923.7L890.4 923.8L892.5 925.0L894.6 926.8L897.2 925.6L899.8 927.1L902.4 925.3L905.0 924.8L907.6 923.0L910.2 923.7L912.8 924.1L915.4 923.7L918.0 922.2L919.9 922.3L922.0 920.2L923.8 920.5L925.8 919.0L931.0 917.0L935.8 917.9L937.9 917.2L940.2 914.9L942.3 916.0L944.5 914.4L947.1 913.5L952.3 915.9L956.7 911.5L957.7 909.3L959.6 908.5L962.2 909.8L967.4 908.1L970.0 907.5L972.6 908.1L974.5 906.5L976.5 906.0L978.4 906.8L984.8 900.5L986.4 898.9L986.9 897.9L987.3 897.4L991.3 897.8L996.0 898.8L999.9 900.8L1001.8 900.5L1003.8 901.1L1006.4 901.0L1009.0 900.0L1013.6 899.4L1015.7 898.2L1019.9 897.5L1021.9 897.5L1024.0 896.4L1026.0 894.6L1027.9 895.3L1030.9 892.3L1031.8 891.7L1033.8 893.7L1035.7 894.2L1037.7 895.9L1039.6 895.6L1042.2 895.6L1044.8 894.4L1047.4 894.1L1051.9 889.6L1052.3 888.7L1055.7 889.8L1058.3 889.4L1060.9 888.6L1063.5 888.7L1066.1 890.2L1068.7 888.6L1071.3 888.0L1073.9 888.6L1076.5 887.9L1079.1 888.3L1081.7 890.2L1084.3 889.5L1086.9 889.1L1089.5 890.2L1095.0 884.7L1096.2 885.8L1098.1 886.4L1102.0 886.3L1103.9 886.5L1107.9 882.4L1109.5 883.1L1111.6 881.0L1113.4 881.8L1115.5 882.1L1117.6 883.9L1119.8 884.5L1122.0 883.4L1124.1 883.6L1126.3 882.8L1128.5 883.2L1133.7 882.0L1136.3 883.2L1138.9 883.2L1141.5 883.9L1144.1 882.4L1146.7 884.0L1151.9 883.2L1154.0 884.1L1156.1 882.3L1158.1 882.4L1160.0 881.8L1162.3 880.6L1164.7 881.8L1167.0 880.3L1169.4 879.4L1171.7 880.1L1174.0 878.5L1178.7 880.2L1181.3 879.7L1183.9 879.8L1186.5 878.7L1188.9 879.8L1191.2 879.8L1193.5 878.8L1195.9 879.4L1197.9 877.8L1200.0 877.9L1202.2 875.6L1204.4 877.1L1206.8 875.9L1209.1 875.3L1211.5 876.3L1213.6 876.7L1220.2 875.6L1222.4 876.3L1224.5 876.3L1226.5 877.2L1228.6 877.1L1230.6 875.1L1234.5 875.4L1236.6 873.3L1238.4 874.5L1240.3 873.7L1244.2 875.5L1246.6 874.4L1248.9 876.2L1253.6 875.5L1255.7 874.5L1257.7 875.4L1259.8 875.4L1261.9 875.2L1264.0 874.6L1266.0 874.8L1268.4 874.2L1270.7 874.4L1273.1 876.2L1277.4 873.5L1279.3 873.2L1285.3 870.7L1287.4 871.4L1289.4 871.6L1293.9 867.2L1294.1 866.7L1295.2 867.1L1298.4 870.3L1302.7 869.7L1305.0 870.0L1307.4 871.1L1311.9 870.6L1316.3 871.3L1318.4 869.7L1320.6 870.9L1322.8 871.2L1325.0 869.4L1327.2 869.7L1329.4 871.1L1332.7 869.5L1337.2 865.1L1337.9 863.2L1338.9 863.5L1342.1 866.8L1344.0 867.0L1346.4 866.6L1348.7 866.9L1351.0 868.5L1353.4 868.5L1355.3 868.1L1359.2 866.1L1361.2 865.4L1363.4 866.4L1365.5 864.7L1367.7 865.7L1369.9 863.9L1376.8 863.8L1379.1 865.0L1381.5 864.6L1383.8 865.9L1386.1 865.1L1388.5 866.5L1390.8 867.0L1392.9 867.1L1395.0 865.9L1397.1 865.9L1399.1 865.2L1401.2 865.0L1403.3 863.8L1407.4 863.8L1409.0 863.4L1411.6 866.0L1413.7 866.0L1415.8 865.4L1418.1 865.3L1420.4 867.1L1422.8 867.1L1427.2 865.2L1429.3 867.1L1431.4 866.0L1435.5 865.5L1437.6 866.2L1439.7 866.1L1441.8 865.2L1445.9 865.6L1450.1 867.0L1452.2 865.9L1454.2 865.7L1456.3 867.5L1458.4 866.1L1460.5 866.3L1464.9 866.1L1467.2 866.6L1469.8 864.1L1471.9 864.6L1474.0 862.8L1476.1 863.6L1478.1 861.5L1479.9 860.7L1482.4 858.1L1486.6 861.7L1488.6 861.1L1490.5 861.2L1492.5 862.2L1494.7 861.5L1496.8 863.7L1501.2 863.0L1503.4 863.0L1505.6 863.9L1507.8 862.5L1512.3 864.6L1514.5 862.4L1516.8 864.0L1519.0 863.8L1521.2 862.9L1523.4 864.7L1525.7 864.7L1530.1 863.6L1532.4 862.4L1534.6 863.8L1536.7 863.5L1538.7 862.8L1540.8 862.7L1542.9 861.5L1545.0 863.6L1547.1 862.2L1551.4 862.7L1553.6 863.6L1555.8 863.9L1558.0 863.0L1562.1 863.1L1564.2 863.9L1566.3 862.6L1568.4 864.1L1572.6 861.5L1574.8 863.5L1577.0 862.6L1579.2 862.7L1581.4 862.2L1583.3 863.0L1586.1 860.2L1590.9 859.7L1592.7 858.6L1594.4 857.0L1596.2 856.0L1597.9 857.7L1599.7 858.4L1601.4 859.9L1603.2 859.9L1605.5 861.1L1607.9 861.0L1610.2 861.6L1612.6 863.0L1614.5 861.2L1616.5 860.8L1618.4 859.9L1623.0 861.7L1625.6 859.1L1630.3 860.3L1632.3 859.2L1634.7 861.6L1636.9 860.6L1639.1 860.6L1641.2 859.7L1643.2 861.6L1647.4 862.0L1649.5 859.9L1651.6 860.6L1653.7 860.2L1655.9 860.8L1658.1 859.6L1660.3 860.2L1662.5 859.9L1664.5 860.4L1668.7 860.8L1670.8 860.6L1672.9 859.3L1677.2 860.6L1681.6 858.9L1683.9 858.5L1686.1 860.2L1688.3 859.5L1690.5 859.9L1692.8 858.8L1695.0 860.1L1699.5 859.8L1701.7 860.6L1708.7 860.5L1711.3 861.5L1713.9 859.9L1716.0 860.2L1718.5 857.7L1720.2 857.5L1722.4 858.2L1724.5 856.4L1726.7 857.8L1729.3 855.2L1731.1 856.0L1733.7 856.0L1736.3 858.2L1738.9 857.5L1741.5 857.4L1744.1 857.1L1746.7 856.0L1749.3 855.6L1751.9 855.9L1756.5 858.8L1758.9 856.4L1760.5 856.6L1762.5 857.3L1764.5 858.4L1768.5 857.5L1771.1 859.2L1776.3 858.3L1778.4 857.6L1780.5 858.4L1782.6 856.7L1786.7 856.3L1789.6 859.2L1791.9 858.3L1794.0 859.1L1798.1 857.5L1800.0 858.6L1802.1 858.5L1804.2 857.7L1806.2 857.8L1808.3 857.4L1810.4 857.4L1812.5 858.6L1814.6 858.5L1816.6 859.7L1818.7 859.8L1820.8 858.6L1822.9 859.1L1825.0 858.6L1827.0 858.5L1829.0 859.3L1831.0 859.1L1833.0 859.9L1839.0 858.6L1841.1 858.6L1843.1 857.1L1845.2 857.7L1847.3 857.4L1849.4 856.3L1851.5 857.0L1853.6 856.2L1855.8 856.8L1858.0 856.1L1860.2 857.4L1864.5 856.5L1866.5 858.4L1868.6 857.5L1870.7 857.1L1872.8 856.8L1874.9 857.0L1878.9 856.5L1881.1 858.7L1883.2 858.7L1885.3 858.1L1887.3 857.8L1889.4 858.1L1891.5 856.5L1893.6 857.5L1895.7 856.3L1899.8 857.0L1901.8 856.7L1903.7 854.9L1905.7 854.5L1909.7 854.5L1911.8 853.1L1913.8 852.3L1915.8 854.2L1917.7 852.9L1919.7 853.5L1921.6 855.5L1923.8 857.0L1926.0 856.4L1928.2 856.9L1932.6 857.0L1934.5 856.3L1936.9 858.7L1939.1 857.5L1941.3 858.8L1945.6 856.7L1947.6 856.9L1949.7 857.5L1951.8 856.6L1953.9 858.1L1956.0 857.0L1959.9 854.3L1961.8 853.7L1963.8 853.9L1965.5 852.1L1967.3 852.8L1969.0 851.4L1971.1 849.4L1973.1 850.7L1975.4 851.1L1977.8 852.3L1978.8 852.1L1981.5 854.8L1983.4 853.6L1985.3 854.6L1987.1 856.2L1989.3 856.2L1991.5 857.6L1993.7 855.8L1995.9 855.6L1998.1 857.0L2000.0 857.6L2002.6 855.0L2003.9 855.9L2005.9 854.7L2008.2 854.3L2010.5 855.3L2012.9 855.6L2015.2 857.0L2017.4 856.8L2019.6 858.2L2021.8 858.0L2024.0 857.1L2026.1 857.0L2028.5 855.3L2033.2 854.7L2035.5 854.7L2038.1 856.0L2040.7 856.9L2043.3 856.2L2046.6 852.9L2049.2 851.7L2051.6 854.1L2053.6 853.2L2055.8 855.5L2057.9 854.4L2060.0 855.7L2062.1 854.8L2064.3 856.4L2066.4 854.4L2070.6 855.5L2072.7 853.8L2074.7 855.3L2076.8 854.9L2080.8 850.8L2081.9 850.7L2085.7 854.5L2088.1 855.9L2090.4 855.1L2092.8 857.0L2095.1 856.1L2097.4 855.8L2099.8 857.3L2102.1 857.2L2104.4 856.1L2106.2 856.5L2108.7 854.0L2110.2 853.8L2114.6 856.4L2119.3 857.5L2121.6 855.8L2126.0 857.2L2128.0 856.4L2130.0 855.1L2132.1 855.3L2134.1 856.4L2136.1 855.0L2138.1 855.5L2140.2 857.4L2144.2 856.1L2146.6 857.2L2148.9 857.4L2151.2 856.0L2156.2 857.1L2158.8 857.1L2161.4 856.8L2164.0 857.4L2166.6 855.7L2171.8 857.8L2174.4 855.6L2177.0 856.4L2179.0 856.1L2181.1 856.6L2183.1 856.5L2185.0 855.7L2185.0 846.8L2183.1 847.6L2181.1 847.7L2179.0 847.2L2177.0 847.5L2174.4 846.7L2171.8 848.9L2166.6 846.8L2164.0 848.5L2161.4 847.9L2158.8 848.2L2156.2 848.2L2151.2 847.1L2148.9 848.5L2146.6 848.3L2144.2 847.2L2140.2 848.5L2138.1 846.6L2136.1 846.1L2134.1 847.5L2132.1 846.4L2130.0 846.2L2128.0 847.5L2126.0 848.3L2121.6 846.9L2119.3 848.6L2114.6 847.5L2110.2 844.9L2108.0 845.2L2105.7 847.5L2104.4 847.2L2102.1 848.3L2099.8 848.4L2097.4 846.9L2095.1 847.2L2092.8 848.1L2090.4 846.2L2088.1 847.0L2087.8 846.9L2087.5 846.1L2083.0 841.7L2080.7 842.0L2078.3 841.7L2074.1 845.9L2072.7 844.9L2070.6 846.6L2066.4 845.5L2064.3 847.5L2062.1 845.9L2060.0 846.8L2057.9 845.5L2055.9 846.5L2053.7 844.3L2052.0 845.1L2049.5 842.7L2047.4 843.7L2045.4 844.4L2042.2 847.6L2040.7 848.0L2038.1 847.1L2035.5 845.8L2033.2 845.8L2028.5 846.4L2026.1 848.1L2024.0 848.2L2021.8 849.1L2019.6 849.3L2017.4 847.9L2015.2 848.1L2012.9 846.7L2010.5 846.4L2008.2 845.4L2005.9 845.8L2003.9 847.0L2002.0 845.6L1999.1 848.4L1998.1 848.1L1995.9 846.7L1993.7 846.9L1991.5 848.7L1989.3 847.3L1987.1 847.3L1985.3 845.7L1983.4 844.7L1982.2 845.5L1979.7 842.9L1977.8 843.4L1975.4 842.2L1973.1 841.8L1970.8 840.3L1967.2 843.9L1965.5 843.2L1963.7 845.0L1961.8 844.8L1959.9 845.4L1956.0 848.1L1953.9 849.2L1951.8 847.7L1949.7 848.6L1947.6 848.0L1945.6 847.8L1941.3 849.9L1939.1 848.6L1937.1 849.7L1934.7 847.3L1932.6 848.1L1928.2 848.0L1926.0 847.5L1923.8 848.1L1921.6 846.6L1919.7 844.6L1917.7 844.0L1915.8 845.3L1913.8 843.4L1911.8 844.2L1909.7 845.6L1905.7 845.6L1903.7 846.0L1901.8 847.8L1899.8 848.1L1895.7 847.4L1893.6 848.6L1891.5 847.6L1889.4 849.2L1887.3 848.9L1885.3 849.2L1883.2 849.8L1881.3 849.8L1879.0 847.5L1874.9 848.1L1872.8 847.9L1870.7 848.2L1868.6 848.6L1866.5 849.5L1864.5 847.6L1860.2 848.5L1858.0 847.2L1855.8 847.9L1853.6 847.3L1851.5 848.1L1849.4 847.4L1847.3 848.5L1845.2 848.8L1843.1 848.2L1841.1 849.7L1839.0 849.7L1833.0 851.0L1831.0 850.2L1829.0 850.4L1827.0 849.6L1825.0 849.7L1822.9 850.2L1820.8 849.7L1818.7 850.9L1816.6 850.8L1814.6 849.6L1812.5 849.7L1810.4 848.5L1808.3 848.5L1806.2 848.9L1804.2 848.8L1802.1 849.6L1800.0 849.7L1798.1 848.6L1794.0 850.2L1791.9 849.4L1790.0 850.1L1787.2 847.4L1782.6 847.8L1780.5 849.5L1778.4 848.7L1776.3 849.4L1771.1 850.3L1768.5 848.6L1764.5 849.5L1762.5 848.4L1760.5 847.7L1758.5 847.4L1756.2 849.7L1751.9 847.0L1749.3 846.7L1746.7 847.1L1744.1 848.2L1741.5 848.5L1738.9 848.6L1736.3 849.3L1733.7 847.1L1731.1 847.1L1728.9 846.1L1726.4 848.7L1724.5 847.5L1722.4 849.3L1720.2 848.6L1718.1 848.8L1715.7 851.3L1713.9 851.0L1711.3 852.6L1708.7 851.6L1701.7 851.7L1699.5 850.9L1695.0 851.2L1692.8 849.9L1690.5 851.0L1688.3 850.6L1686.1 851.3L1683.9 849.6L1681.6 850.0L1677.2 851.7L1672.9 850.4L1670.8 851.7L1668.7 851.9L1664.5 851.5L1662.5 851.0L1660.3 851.3L1658.1 850.7L1655.9 851.9L1653.7 851.3L1651.6 851.7L1649.5 851.0L1647.4 853.1L1643.2 852.7L1641.2 850.8L1639.1 851.7L1636.9 851.7L1634.9 852.6L1632.5 850.2L1630.3 851.4L1625.6 850.2L1623.0 852.8L1618.4 851.0L1616.5 851.9L1614.5 852.3L1612.6 854.1L1610.2 852.7L1607.9 852.1L1605.5 852.2L1603.2 851.0L1601.4 851.0L1599.7 849.5L1597.9 848.8L1596.2 847.1L1594.4 848.1L1592.7 849.7L1590.9 850.8L1585.3 851.3L1582.8 853.9L1581.4 853.3L1579.2 853.8L1577.0 853.7L1574.8 854.6L1572.6 852.6L1568.4 855.2L1566.3 853.7L1564.2 855.0L1562.1 854.2L1558.0 854.1L1555.8 855.0L1553.6 854.7L1551.4 853.8L1547.1 853.3L1545.0 854.7L1542.9 852.6L1540.8 853.8L1538.7 853.9L1536.7 854.6L1534.6 854.9L1532.4 853.5L1530.1 854.7L1525.7 855.8L1523.4 855.8L1521.2 854.0L1519.0 854.9L1516.8 855.1L1514.5 853.5L1512.3 855.7L1507.8 853.6L1505.6 855.0L1503.4 854.1L1501.2 854.1L1496.8 854.8L1494.7 852.6L1492.5 853.3L1490.5 852.3L1488.6 852.2L1486.6 852.8L1484.7 851.0L1481.6 848.6L1477.1 853.1L1476.1 854.7L1474.0 853.9L1471.9 855.7L1469.6 855.1L1467.0 857.7L1464.9 857.2L1460.5 857.4L1458.4 857.2L1456.3 858.6L1454.2 856.8L1452.2 857.0L1450.1 858.1L1445.9 856.7L1441.8 856.3L1439.7 857.2L1437.6 857.3L1435.5 856.6L1431.4 857.1L1429.3 858.2L1427.2 856.3L1422.8 858.2L1420.4 858.2L1418.1 856.4L1415.8 856.5L1413.7 857.1L1412.2 857.1L1409.5 854.4L1407.4 854.9L1403.3 854.9L1401.2 856.1L1399.1 856.3L1397.1 857.0L1395.0 857.0L1392.9 858.2L1390.8 858.1L1388.5 857.6L1386.1 856.2L1383.8 857.0L1381.5 855.7L1379.1 856.1L1376.8 854.9L1369.9 855.0L1367.7 856.8L1365.5 855.8L1363.4 857.5L1361.2 856.5L1359.2 857.2L1355.3 859.2L1353.4 859.6L1351.0 859.6L1348.7 858.0L1346.4 857.7L1344.0 858.1L1343.0 858.0L1340.1 855.1L1336.2 853.4L1330.6 858.9L1329.4 862.2L1327.2 860.8L1325.0 860.5L1322.8 862.3L1320.6 862.0L1318.4 860.8L1316.3 862.4L1311.9 861.7L1307.4 862.2L1305.0 861.1L1302.7 860.8L1299.0 861.4L1296.5 858.8L1294.5 857.9L1292.6 857.3L1287.5 862.5L1285.3 861.8L1279.3 864.3L1277.4 864.6L1273.1 867.3L1270.7 865.5L1268.4 865.3L1266.0 865.9L1264.0 865.7L1261.9 866.3L1259.8 866.5L1257.7 866.5L1255.7 865.6L1253.6 866.6L1248.9 867.3L1246.6 865.5L1244.2 866.6L1240.3 864.8L1238.4 865.6L1236.4 864.3L1234.2 866.5L1230.6 866.2L1228.5 868.2L1226.5 868.3L1224.5 867.4L1222.4 867.4L1220.2 866.7L1213.6 867.8L1211.5 867.4L1209.1 866.4L1206.8 867.0L1204.4 868.2L1202.1 866.6L1199.8 869.0L1197.9 868.9L1195.9 870.5L1193.5 869.9L1191.2 870.9L1188.9 870.9L1186.5 869.8L1183.9 870.9L1181.3 870.8L1178.7 871.3L1174.0 869.6L1171.7 871.2L1169.4 870.5L1167.0 871.4L1164.7 872.9L1162.3 871.7L1160.0 872.9L1158.1 873.5L1156.1 873.4L1154.0 875.2L1151.9 874.3L1146.7 875.1L1144.1 873.5L1141.5 875.0L1138.9 874.3L1136.3 874.3L1133.7 873.1L1128.5 874.3L1126.3 873.9L1124.1 874.7L1122.0 874.5L1119.8 875.6L1117.6 875.0L1115.5 873.2L1113.4 872.9L1111.4 871.9L1109.2 874.1L1107.6 873.3L1105.7 873.9L1102.2 877.4L1098.1 877.5L1096.2 876.9L1094.2 875.0L1089.8 879.5L1088.8 881.0L1086.9 880.2L1084.3 880.6L1081.7 881.3L1079.1 879.4L1076.5 879.0L1073.9 879.7L1071.3 879.1L1068.7 879.7L1066.1 881.3L1063.5 879.8L1060.9 879.7L1058.3 880.5L1055.7 880.9L1053.1 880.2L1050.5 878.9L1046.1 883.4L1045.2 885.5L1042.2 886.7L1039.6 886.7L1037.7 887.0L1035.7 885.3L1033.8 884.8L1031.8 882.8L1029.9 884.0L1027.6 886.3L1026.0 885.7L1024.0 887.5L1021.9 888.6L1019.9 888.6L1015.7 889.3L1013.6 890.5L1009.0 891.1L1006.4 892.1L1003.8 892.2L1001.8 891.6L999.9 891.9L996.0 889.9L986.6 888.3L979.0 895.5L978.0 897.7L976.5 897.1L974.5 897.6L972.6 899.2L970.0 898.6L967.4 899.2L962.2 900.9L959.6 899.6L957.0 900.8L955.4 901.9L950.9 906.4L947.1 904.6L944.5 905.5L942.3 907.1L940.1 905.9L937.7 908.3L935.8 909.0L931.0 908.1L925.8 910.1L923.8 911.6L921.9 911.3L919.8 913.4L918.0 913.3L915.4 914.8L912.8 915.2L910.2 914.8L907.6 914.1L905.0 915.9L902.4 916.4L899.8 918.2L897.2 916.7L894.6 917.9L892.5 916.1L890.4 914.9L888.3 914.8L885.8 917.3L884.2 917.7L882.1 919.5L879.8 919.2L877.4 919.5L871.4 925.6L869.9 927.5L868.3 929.1L865.0 934.3L864.3 934.6L862.1 934.5L860.0 935.4L853.6 934.8L851.7 936.1L849.4 938.5L847.8 938.2L845.1 940.9L843.9 941.0L841.4 943.5L837.2 946.0L834.8 948.1L832.4 947.1L830.0 948.6L828.1 950.2L826.2 948.8L822.5 951.6L820.6 952.2L815.0 957.9L810.5 959.5L808.1 960.0L806.5 961.0L799.8 967.3L797.5 968.0L795.1 969.7L792.8 969.3L790.5 969.4L786.0 973.8L785.3 976.7L784.5 978.7L781.1 979.8L779.0 979.7L776.5 982.1L774.9 982.7L772.8 982.4L770.7 983.2L768.6 983.5L766.1 986.0L764.5 986.0L762.8 987.7L761.3 988.5L759.8 989.0L756.3 992.4L754.1 992.8L752.0 994.7L747.8 993.8L745.7 994.7L743.7 994.3L741.6 995.4L737.1 999.8L735.8 1003.6L734.4 1005.0L732.9 1005.9L730.7 1008.0L729.1 1008.4L727.0 1010.4L725.0 1010.1L722.9 1012.0L719.1 1014.0L717.3 1013.8L710.7 1020.0L709.9 1020.2L708.1 1021.8L706.2 1022.4L704.2 1023.6L702.1 1023.3L700.0 1024.5L697.8 1025.2L696.2 1026.0L691.8 1030.4L690.2 1032.5L688.8 1035.8L687.1 1037.4L686.2 1038.8L685.2 1040.9L684.3 1042.3L683.2 1044.9L681.3 1045.0L677.5 1048.6L673.1 1053.0L671.5 1055.1L667.9 1058.7L665.4 1062.1L664.2 1063.3L662.1 1069.4L661.1 1070.8L660.8 1071.8L659.1 1071.9L656.9 1072.5L652.6 1072.0L648.1 1076.4L647.6 1077.1L646.7 1083.2L646.2 1084.2L645.9 1086.0L640.9 1091.5L639.3 1091.7L637.4 1092.4L635.4 1093.8L631.0 1098.3L629.6 1104.5L627.5 1106.6L626.0 1106.3L622.9 1108.7L618.5 1113.1L617.4 1114.6L616.1 1114.0L611.8 1118.2L610.5 1118.8L608.9 1120.0L604.4 1124.5L601.3 1128.3L598.5 1133.4L597.2 1135.2L595.9 1136.5L595.6 1137.2L593.4 1139.3L592.3 1139.0L588.6 1141.6L584.2 1146.0L582.9 1149.4L578.1 1154.1L576.8 1157.1L575.4 1158.6L573.6 1161.3L571.2 1163.6L569.1 1167.9L567.0 1170.0L566.3 1171.7L565.5 1172.6L560.9 1167.9L559.9 1168.5L555.5 1173.0L554.5 1176.9L553.8 1194.9L553.0 1196.2L551.6 1201.3L550.6 1202.3L549.9 1206.6L549.1 1207.4L548.1 1209.5L547.2 1212.9L546.3 1213.9L545.3 1215.5L543.9 1219.5L543.4 1222.1L542.9 1222.9L542.5 1226.5Z"/>
<path id="c-red" fill="#ff0000" d="M591.1 1155.5L590.5 1156.7L590.0 1158.6L588.6 1160.1L587.3 1162.4L582.9 1167.1L581.4 1169.8L578.2 1173.1L577.6 1174.6L573.6 1187.1L572.6 1188.6L570.7 1192.9L566.8 1200.2L564.7 1203.4L561.5 1209.6L560.3 1210.9L559.1 1213.6L558.0 1215.2L554.8 1221.3L551.7 1226.1L550.9 1227.8L547.0 1238.6L546.4 1242.0L543.4 1250.0L542.7 1252.4L542.1 1253.7L540.8 1258.5L538.8 1264.4L536.6 1270.0L536.0 1272.6L535.4 1274.0L534.2 1278.2L532.5 1285.4L531.0 1290.7L529.5 1296.6L525.4 1317.0L526.2 1319.2L526.7 1319.8L528.0 1320.6L529.5 1321.2L531.0 1320.6L532.3 1319.8L533.1 1318.5L535.3 1309.4L537.8 1296.6L543.6 1274.0L544.2 1272.6L544.9 1270.0L547.1 1264.4L549.1 1258.5L550.4 1253.7L551.0 1252.4L551.6 1250.0L554.6 1242.0L555.3 1238.6L559.2 1227.8L560.0 1226.1L563.1 1221.3L566.3 1215.2L567.4 1213.6L568.6 1210.9L569.8 1209.6L573.0 1203.4L575.1 1200.2L579.0 1192.9L580.9 1188.6L581.9 1187.1L585.9 1174.6L586.5 1173.1L589.7 1169.8L591.2 1167.1L595.5 1162.7L596.5 1160.8L598.2 1159.1L600.6 1151.3L602.1 1149.5L603.7 1147.0L608.1 1142.2L609.2 1140.6L611.0 1145.0L615.1 1149.2L619.3 1145.0L620.2 1143.1L621.6 1141.7L623.6 1137.9L631.8 1129.4L634.0 1126.5L636.0 1124.7L639.8 1122.0L641.6 1121.1L647.4 1115.2L648.9 1112.6L652.0 1109.2L652.8 1106.8L653.9 1104.7L657.2 1107.1L661.4 1102.9L664.4 1098.6L669.1 1094.2L670.3 1091.8L674.8 1087.5L676.7 1085.0L678.0 1084.6L680.1 1084.6L682.2 1083.7L686.3 1079.5L687.2 1078.2L691.5 1073.9L693.2 1071.3L697.1 1067.4L698.1 1066.7L700.0 1066.3L702.1 1065.0L704.2 1064.1L707.8 1061.0L712.6 1056.5L714.6 1056.4L716.6 1055.1L718.7 1054.9L720.5 1053.5L724.2 1049.9L730.2 1045.7L734.3 1043.5L736.2 1041.6L737.9 1040.7L739.8 1039.1L741.6 1038.3L745.7 1034.1L746.4 1028.1L746.8 1027.8L748.9 1027.9L753.0 1025.9L755.1 1024.8L757.2 1023.0L759.3 1021.6L761.7 1021.6L766.5 1022.2L769.1 1022.0L771.7 1022.7L775.9 1018.5L775.9 1018.0L776.9 1019.0L781.1 1019.2L783.2 1020.1L785.6 1019.5L790.5 1019.6L792.9 1018.8L795.3 1018.6L797.7 1017.5L799.8 1017.4L801.9 1015.5L804.0 1015.4L806.0 1014.4L808.1 1012.9L810.2 1012.3L814.4 1008.1L815.0 1007.0L817.1 1006.9L819.6 1005.5L822.0 1004.9L824.4 1003.7L826.8 1003.4L828.7 1001.5L832.0 999.8L834.1 1000.1L836.2 999.0L838.3 999.3L840.0 999.8L846.2 996.7L850.1 993.6L854.3 989.4L854.5 985.1L855.4 985.6L857.2 987.4L861.3 987.0L865.3 986.4L867.3 985.9L869.2 984.4L871.2 984.2L873.5 983.2L878.2 982.9L880.5 981.9L882.9 981.7L885.2 981.3L887.6 981.9L896.9 978.8L899.3 978.8L903.4 974.6L904.0 965.3L905.5 964.7L907.5 966.1L909.4 966.6L911.3 967.8L913.3 968.6L915.6 969.0L918.0 968.9L920.3 968.4L922.7 968.6L926.8 964.5L927.6 962.8L929.3 963.8L931.4 963.5L933.6 964.0L936.2 963.4L938.8 963.8L943.3 962.5L945.3 961.4L947.2 960.9L949.2 960.8L951.8 960.0L954.4 959.6L957.0 959.3L958.9 959.3L960.9 958.0L962.8 958.3L964.8 957.4L967.4 957.4L970.0 956.5L972.6 956.2L975.2 956.2L985.6 953.3L988.2 953.0L990.5 952.2L992.8 952.0L995.2 950.7L997.5 949.9L1001.7 945.8L1002.5 936.2L1005.3 939.0L1007.4 939.9L1009.5 940.3L1014.1 942.3L1016.7 942.4L1021.9 943.2L1024.5 943.8L1027.1 943.7L1029.7 943.1L1032.3 943.5L1037.7 942.3L1040.4 941.3L1044.6 937.2L1045.2 921.3L1047.4 920.3L1051.6 916.1L1052.0 912.0L1053.7 911.7L1055.0 912.6L1058.3 915.6L1060.4 915.8L1062.5 917.1L1066.7 918.8L1068.7 918.8L1070.8 919.5L1075.5 920.5L1077.8 922.1L1082.5 923.1L1084.8 924.1L1089.5 924.7L1092.1 924.5L1094.7 925.9L1097.3 925.8L1099.9 926.3L1102.5 926.1L1107.7 925.6L1112.9 924.2L1118.6 918.4L1120.2 916.1L1120.5 909.2L1124.9 910.7L1127.0 910.9L1129.0 912.4L1131.1 912.9L1133.2 914.1L1135.5 915.0L1137.9 915.2L1142.6 916.4L1146.7 912.2L1148.0 909.5L1149.9 910.3L1151.7 912.1L1153.5 913.3L1155.8 914.2L1160.0 914.2L1164.2 910.1L1165.7 907.8L1170.9 911.1L1172.9 910.9L1176.8 909.9L1178.7 908.8L1188.1 910.3L1192.2 906.2L1193.4 901.4L1194.3 902.3L1195.3 902.7L1197.4 904.9L1199.5 905.9L1201.6 905.7L1203.7 906.4L1207.8 902.3L1208.2 902.5L1210.3 902.4L1212.4 903.4L1214.6 904.9L1216.9 905.2L1219.3 905.9L1223.9 908.0L1228.1 905.5L1230.2 904.9L1232.8 904.8L1235.4 906.2L1238.0 906.4L1239.9 905.3L1243.8 904.8L1245.8 904.1L1247.7 905.1L1249.7 905.5L1251.6 906.1L1258.3 907.2L1260.6 907.4L1267.6 906.7L1269.9 907.4L1272.3 907.2L1277.7 903.3L1280.9 900.2L1284.8 904.1L1292.6 903.3L1296.7 899.2L1298.1 889.2L1299.3 891.4L1303.5 895.5L1305.4 896.9L1307.4 896.8L1309.3 898.2L1311.3 898.6L1313.9 898.8L1319.1 900.2L1323.2 896.0L1324.1 891.1L1325.7 892.5L1331.6 896.3L1334.1 896.8L1336.7 896.5L1339.3 897.1L1342.8 893.6L1346.4 894.7L1348.7 896.3L1350.8 895.7L1352.9 893.7L1354.9 893.2L1356.9 893.3L1358.8 894.7L1360.8 895.3L1362.7 895.5L1367.4 890.8L1371.6 891.3L1373.7 892.4L1375.6 893.0L1379.5 893.7L1383.8 895.6L1386.1 894.9L1390.8 896.3L1393.4 896.3L1398.6 895.5L1402.8 891.4L1403.9 889.4L1406.2 887.1L1411.1 892.2L1412.6 893.2L1415.0 893.9L1417.3 894.1L1419.7 894.7L1424.3 894.9L1429.0 895.7L1431.4 895.5L1433.7 895.7L1438.4 894.9L1440.7 895.5L1444.9 891.4L1445.4 886.2L1448.5 889.3L1450.5 889.8L1454.4 891.3L1461.5 892.4L1464.1 892.4L1466.7 893.4L1469.3 893.5L1471.9 894.0L1476.1 889.8L1479.6 884.9L1480.0 885.3L1486.2 886.8L1488.2 887.9L1490.1 887.5L1494.0 889.2L1496.6 889.5L1499.2 889.1L1501.8 889.2L1506.0 885.0L1507.2 874.3L1511.2 878.3L1513.1 879.2L1515.1 880.5L1519.0 882.2L1521.3 882.8L1523.7 884.2L1526.0 884.1L1528.3 885.3L1530.7 885.4L1533.0 884.0L1535.4 884.7L1537.7 883.7L1542.4 885.2L1544.7 886.6L1551.4 887.2L1553.6 886.8L1555.8 887.8L1558.0 887.6L1560.3 888.1L1562.7 887.8L1565.0 888.4L1569.1 884.3L1570.5 873.6L1572.5 875.5L1574.6 876.4L1576.7 878.3L1579.0 877.0L1581.4 875.2L1586.0 878.3L1588.1 878.3L1590.2 876.8L1592.3 876.7L1594.2 877.8L1596.2 878.5L1598.1 878.5L1600.1 879.8L1602.4 880.5L1604.8 880.8L1607.1 881.8L1612.0 882.5L1617.2 881.4L1621.1 879.8L1625.3 875.7L1625.6 873.4L1629.7 877.5L1631.8 877.4L1633.9 878.1L1636.0 878.3L1637.9 877.0L1639.9 876.1L1641.8 876.1L1643.8 875.2L1647.7 878.0L1651.6 879.8L1653.9 878.9L1656.2 876.7L1658.3 877.3L1660.4 878.9L1662.5 879.8L1665.1 880.5L1667.7 880.5L1670.3 881.4L1672.6 880.6L1677.3 880.2L1679.6 879.8L1682.0 880.2L1691.3 879.7L1693.7 880.9L1698.3 881.4L1700.9 881.0L1703.5 881.5L1706.1 881.4L1708.2 880.3L1712.4 879.1L1717.1 875.9L1719.4 877.0L1721.7 877.5L1723.8 875.4L1726.4 873.6L1728.5 874.8L1730.6 876.9L1732.6 878.3L1734.7 879.2L1736.8 879.0L1738.9 879.8L1740.4 878.8L1743.6 875.9L1745.5 876.6L1751.4 879.8L1753.4 879.7L1757.6 878.3L1761.7 874.1L1762.8 872.4L1768.5 876.7L1773.2 872.0L1775.5 871.1L1777.9 869.7L1781.8 870.8L1783.7 872.5L1787.8 873.0L1789.8 872.8L1791.9 873.6L1794.0 873.5L1796.1 872.1L1798.1 872.0L1800.0 873.1L1801.9 873.5L1805.8 875.0L1807.8 875.4L1810.5 876.7L1813.3 877.0L1817.4 872.8L1817.9 866.9L1820.3 869.2L1824.2 871.6L1826.1 872.6L1830.4 873.8L1832.8 874.8L1835.1 874.4L1837.4 875.4L1839.8 875.9L1842.1 875.7L1844.4 876.7L1849.1 877.5L1851.5 877.2L1853.8 877.8L1858.0 873.6L1859.4 868.2L1863.9 866.8L1866.0 867.9L1870.2 871.5L1872.3 871.8L1874.3 871.0L1876.4 870.7L1878.8 869.8L1881.1 868.4L1883.2 869.4L1885.3 870.0L1887.3 871.5L1889.3 872.2L1891.2 872.3L1893.2 872.8L1895.1 873.9L1899.3 873.6L1901.4 873.1L1904.0 873.0L1906.6 874.7L1909.2 874.6L1911.5 874.3L1920.7 875.9L1925.1 876.2L1927.3 876.0L1929.4 876.2L1931.8 876.9L1934.1 876.2L1936.5 877.3L1941.5 876.4L1944.3 877.0L1948.4 872.8L1949.5 866.5L1952.1 866.1L1954.9 863.2L1959.1 867.6L1961.2 868.3L1967.7 872.0L1970.0 872.3L1974.1 868.2L1975.8 864.9L1978.3 863.7L1980.8 863.7L1985.6 868.4L1989.1 870.5L1991.0 870.2L1993.0 871.8L1994.9 872.3L2000.1 872.9L2002.7 873.9L2005.3 874.3L2007.9 873.8L2010.5 873.9L2014.7 869.7L2016.3 862.7L2018.3 861.4L2020.4 863.4L2022.5 864.1L2024.6 866.1L2026.7 867.6L2028.7 867.7L2030.8 869.2L2032.8 869.4L2034.7 870.2L2036.7 870.5L2038.6 871.5L2040.9 870.8L2043.3 871.3L2045.6 870.8L2048.0 870.7L2050.6 870.9L2053.2 871.8L2055.8 872.3L2057.9 870.2L2060.0 869.0L2064.2 870.9L2066.2 871.0L2073.3 872.1L2077.9 871.4L2080.3 871.3L2083.0 869.8L2087.2 865.6L2087.3 863.5L2088.9 865.1L2090.9 866.3L2093.0 866.5L2097.4 868.2L2104.4 868.8L2109.1 869.8L2111.5 869.9L2113.8 870.4L2116.1 871.2L2120.8 870.7L2123.2 871.1L2125.5 872.1L2127.8 872.4L2130.2 872.1L2132.5 872.7L2134.9 872.9L2137.2 872.2L2139.5 872.9L2142.1 872.9L2144.7 871.9L2147.3 872.1L2149.4 871.9L2151.5 870.7L2153.6 870.2L2157.5 867.4L2164.7 860.2L2165.2 840.0L2167.0 839.4L2168.1 841.9L2172.3 846.0L2174.6 844.2L2177.0 842.9L2181.1 838.7L2181.5 837.3L2185.0 840.8L2185.0 827.4L2182.0 824.4L2179.7 825.2L2175.5 829.4L2173.3 836.6L2172.5 834.8L2168.4 830.7L2166.0 831.5L2162.9 828.3L2161.2 828.7L2157.1 832.9L2156.4 859.9L2153.6 861.9L2151.5 862.4L2149.4 863.6L2147.3 863.8L2144.7 863.6L2142.1 864.6L2139.5 864.6L2137.2 863.9L2134.9 864.6L2132.5 864.4L2130.2 863.8L2127.8 864.1L2125.5 863.8L2123.2 862.8L2120.8 862.4L2116.1 862.9L2113.8 862.1L2111.5 861.6L2109.1 861.5L2104.4 860.5L2097.4 859.9L2093.0 858.2L2090.9 858.0L2090.3 857.6L2089.3 852.8L2085.1 848.6L2083.6 848.6L2079.5 852.8L2079.0 863.1L2073.3 863.8L2066.2 862.7L2064.2 862.6L2060.0 860.7L2057.9 861.9L2055.8 864.0L2053.2 863.5L2050.6 862.6L2048.0 862.4L2045.6 862.5L2043.3 863.0L2040.9 862.5L2038.6 863.2L2036.7 862.2L2034.7 861.9L2032.8 861.1L2030.8 860.9L2028.7 859.4L2026.7 859.3L2024.6 857.8L2022.5 855.8L2020.4 855.1L2018.3 853.1L2016.5 854.3L2014.7 855.1L2012.9 856.2L2008.7 860.4L2007.4 865.6L2005.3 866.0L2002.7 865.6L2000.1 864.6L1994.9 864.0L1993.0 863.5L1991.0 861.9L1989.1 862.2L1987.1 860.9L1984.0 857.8L1982.6 857.2L1980.9 855.4L1978.3 855.4L1975.7 856.6L1973.1 857.0L1969.0 861.1L1968.0 863.7L1962.7 860.9L1962.1 859.4L1961.5 856.0L1960.9 854.1L1956.7 850.0L1953.6 848.4L1949.5 852.6L1948.5 858.7L1947.9 859.0L1945.8 859.3L1941.7 863.5L1940.9 868.3L1936.5 869.0L1934.1 867.9L1931.8 868.6L1929.4 867.9L1927.3 867.7L1925.1 867.9L1920.7 867.6L1911.5 866.0L1909.2 866.3L1906.6 866.4L1904.0 864.7L1901.4 864.8L1899.3 865.3L1895.1 865.6L1893.2 864.5L1891.2 864.0L1889.3 863.9L1887.3 863.2L1885.3 861.7L1883.2 861.1L1881.1 860.1L1878.8 861.5L1876.4 862.4L1874.3 862.7L1872.3 863.5L1870.2 863.2L1866.0 859.6L1863.9 858.5L1862.0 859.0L1860.0 859.8L1858.1 859.9L1856.1 860.9L1852.0 865.0L1850.9 869.0L1849.1 869.2L1844.4 868.4L1842.1 867.4L1839.8 867.6L1837.4 867.1L1835.1 866.1L1832.8 866.5L1830.4 865.5L1826.1 864.3L1823.9 863.1L1822.1 854.1L1817.9 850.0L1814.8 850.0L1810.7 854.1L1809.5 867.9L1807.8 867.1L1805.8 866.7L1801.9 865.2L1800.0 864.8L1798.1 863.7L1796.1 863.8L1794.0 865.2L1791.9 865.3L1789.8 864.5L1787.8 864.7L1783.7 864.2L1781.8 862.5L1777.9 861.4L1775.5 862.8L1773.2 863.7L1768.3 868.3L1762.3 863.7L1758.1 867.9L1757.3 869.1L1756.0 870.5L1753.4 871.4L1751.4 871.5L1745.5 868.3L1743.6 867.6L1740.3 870.6L1738.9 871.5L1736.8 870.7L1734.7 870.9L1732.6 870.0L1730.6 868.6L1728.5 866.5L1726.4 865.3L1723.3 867.4L1721.6 869.2L1719.4 868.7L1717.1 867.6L1712.4 870.8L1708.2 872.0L1706.1 873.1L1703.5 873.2L1700.9 872.7L1698.3 873.1L1693.7 872.6L1691.3 871.4L1682.0 871.9L1679.6 871.5L1677.3 871.9L1672.6 872.3L1670.3 873.1L1667.7 872.2L1665.1 872.2L1662.5 871.5L1660.4 870.6L1658.3 869.0L1656.2 868.4L1653.9 870.6L1651.6 871.5L1647.7 869.7L1643.8 866.9L1641.8 867.8L1639.9 867.8L1637.9 868.7L1636.0 870.0L1633.9 869.8L1632.5 869.3L1631.5 867.2L1630.7 864.8L1626.6 860.6L1622.7 859.8L1618.5 864.0L1617.3 873.0L1612.0 874.2L1607.1 873.5L1604.8 872.5L1602.4 872.2L1600.1 871.5L1598.1 870.2L1596.2 870.2L1594.2 869.5L1592.3 868.4L1590.2 868.5L1588.1 870.0L1586.0 870.0L1581.4 866.9L1579.0 868.7L1576.7 870.0L1574.6 868.1L1572.5 867.2L1570.5 865.3L1566.6 866.1L1562.4 870.2L1561.4 879.7L1560.3 879.8L1558.0 879.3L1555.8 879.5L1553.6 878.5L1551.4 878.9L1544.7 878.3L1542.4 876.9L1537.7 875.4L1535.4 876.4L1533.0 875.7L1530.7 877.1L1528.3 877.0L1526.0 875.8L1523.7 875.9L1521.3 874.5L1519.0 873.9L1514.7 872.0L1514.2 868.9L1513.0 864.8L1508.9 860.6L1504.2 860.6L1500.0 864.8L1498.1 881.0L1496.6 881.2L1494.0 880.9L1490.1 879.2L1488.2 879.6L1486.2 878.5L1482.5 877.6L1478.9 874.0L1474.8 878.1L1472.4 883.6L1470.8 885.5L1466.7 885.1L1464.1 884.1L1461.5 884.1L1454.4 883.0L1449.8 881.3L1447.7 878.7L1446.4 876.6L1442.3 872.4L1438.1 876.6L1437.0 886.9L1436.0 887.1L1433.7 887.4L1431.4 887.2L1429.0 887.4L1426.7 886.9L1419.7 886.4L1417.3 885.8L1415.0 885.6L1412.4 884.7L1406.4 878.6L1403.3 881.0L1399.1 885.1L1397.3 887.5L1396.0 887.8L1393.4 888.0L1390.8 888.0L1386.1 886.6L1383.8 887.3L1379.5 885.4L1375.6 884.7L1373.7 884.1L1371.6 883.0L1367.4 882.5L1362.7 887.2L1360.8 887.0L1358.8 886.4L1356.9 885.0L1354.9 884.9L1352.9 885.4L1350.8 887.4L1348.7 888.0L1346.4 886.4L1341.7 884.9L1338.1 888.5L1336.7 888.2L1334.1 888.5L1331.6 888.0L1325.7 884.2L1323.8 882.5L1320.6 883.3L1316.5 887.5L1315.8 891.0L1309.3 889.9L1307.4 888.5L1306.2 888.5L1305.8 887.2L1304.8 885.9L1303.9 883.4L1302.9 882.0L1298.8 877.9L1294.9 877.9L1290.8 882.0L1288.9 895.3L1286.0 895.6L1280.9 890.3L1276.7 894.5L1275.4 896.7L1272.3 898.9L1269.9 899.1L1267.6 898.4L1260.6 899.1L1258.3 898.9L1251.6 897.8L1249.7 897.2L1247.7 896.8L1245.8 895.8L1243.8 896.5L1239.9 897.0L1238.0 898.1L1235.4 897.9L1232.8 896.5L1230.2 896.6L1228.1 897.2L1223.9 899.7L1219.3 897.6L1216.9 896.9L1214.6 896.6L1212.4 895.1L1210.3 894.1L1208.2 894.2L1206.0 892.7L1201.9 896.8L1201.6 897.4L1199.5 897.6L1198.1 896.9L1191.2 890.3L1187.0 894.5L1185.0 901.6L1178.7 900.5L1176.8 901.6L1172.9 902.6L1170.9 902.8L1164.7 898.9L1159.4 904.3L1158.5 905.8L1155.8 905.9L1153.5 905.0L1151.7 903.8L1150.0 902.1L1148.4 901.5L1146.5 899.5L1142.3 903.7L1140.6 907.7L1137.9 906.9L1135.5 906.7L1133.2 905.8L1131.1 904.6L1129.0 904.1L1127.0 902.6L1124.9 902.4L1122.0 901.4L1121.0 899.8L1116.8 895.6L1112.7 899.8L1111.9 916.2L1107.7 917.3L1099.9 918.0L1097.3 917.5L1094.7 917.6L1092.1 916.2L1089.5 916.4L1084.8 915.8L1082.5 914.8L1077.8 913.8L1075.5 912.2L1070.8 911.2L1068.7 910.5L1066.7 910.5L1062.5 908.8L1060.4 907.5L1058.3 907.3L1055.2 904.4L1053.7 903.4L1048.2 904.2L1044.0 908.3L1043.6 913.0L1041.2 913.6L1037.0 917.7L1036.4 934.3L1032.3 935.2L1029.7 934.8L1027.1 935.4L1024.5 935.5L1021.9 934.9L1016.7 934.1L1014.1 934.0L1009.5 932.0L1008.1 931.8L1006.3 928.6L1002.2 924.5L999.1 924.5L994.9 928.6L993.6 943.3L992.8 943.7L990.5 943.9L988.2 944.7L985.6 945.0L975.2 947.9L972.6 947.9L970.0 948.2L967.4 949.1L964.8 949.1L962.8 950.0L960.9 949.7L958.9 951.0L957.0 951.0L954.4 951.3L951.8 951.7L949.2 952.5L947.2 952.6L945.3 953.1L943.3 954.2L938.8 955.5L936.2 955.1L933.6 955.7L931.4 955.2L929.3 955.5L927.1 954.3L925.0 954.1L920.8 958.3L920.0 960.2L918.0 960.6L915.6 960.7L913.3 960.3L911.3 959.5L909.4 958.3L907.5 957.8L905.5 956.4L902.8 957.4L900.0 957.2L895.9 961.4L895.3 971.0L887.6 973.6L885.2 973.0L882.9 973.4L880.5 973.6L878.2 974.6L873.5 974.9L871.2 975.9L869.2 976.1L867.3 977.6L865.3 978.1L857.2 979.0L850.9 972.8L846.8 977.0L846.1 988.5L840.0 991.5L838.3 991.0L836.2 990.7L834.1 991.8L832.0 991.5L828.6 993.3L826.8 995.1L824.4 995.4L822.0 996.6L819.6 997.2L817.1 998.6L814.7 998.7L812.3 999.8L808.1 1004.0L807.8 1004.8L806.0 1006.1L804.0 1007.1L801.9 1007.2L799.8 1009.1L797.7 1009.2L795.3 1010.3L792.9 1010.5L790.5 1011.3L785.6 1011.2L783.2 1011.8L781.1 1010.9L777.3 1010.8L773.8 1007.3L772.3 1006.1L768.1 1010.2L767.9 1013.8L766.5 1013.9L761.7 1013.3L759.3 1013.3L757.2 1014.7L755.1 1016.5L748.9 1019.6L746.8 1019.5L744.7 1020.6L742.6 1020.6L738.5 1024.8L737.6 1032.6L736.1 1033.3L734.2 1035.2L730.2 1037.4L724.2 1041.6L718.7 1046.6L716.6 1046.8L714.6 1048.1L712.5 1048.2L710.7 1049.9L709.4 1050.7L704.2 1055.8L702.1 1056.7L700.0 1058.0L698.1 1058.4L696.2 1059.8L690.5 1065.3L685.8 1070.2L683.8 1073.0L680.7 1076.1L680.1 1076.3L678.0 1076.3L676.0 1076.9L669.2 1083.7L667.9 1085.7L662.2 1091.6L661.6 1092.7L657.8 1096.5L656.4 1098.3L653.6 1096.1L651.8 1095.7L647.6 1099.8L645.3 1105.6L644.5 1106.8L643.7 1109.2L640.6 1112.6L640.1 1113.5L636.0 1116.4L634.2 1118.1L632.3 1119.1L628.1 1123.2L623.8 1129.0L622.9 1129.6L618.8 1133.8L617.9 1135.0L615.9 1137.0L612.0 1133.1L608.9 1130.8L603.5 1136.3L602.2 1138.7L599.8 1142.2L595.4 1147.0L593.8 1149.5L592.3 1151.3Z"/>
<path id="c-gray" fill="#888888" d="M608.8 1175.4L601.1 1178.5L587.7 1191.5L583.1 1196.5L578.6 1206.9L570.6 1215.2L567.5 1220.4L565.4 1224.6L563.5 1227.8L558.4 1240.0L557.2 1241.9L554.8 1244.8L553.7 1246.8L552.4 1248.1L551.2 1250.2L548.6 1253.0L544.2 1258.6L540.7 1264.2L537.5 1270.0L534.7 1278.6L531.9 1288.7L530.3 1295.0L526.0 1314.7L525.6 1317.0L526.4 1319.1L527.5 1320.2L529.6 1321.0L531.7 1320.2L533.1 1318.5L533.6 1317.0L537.4 1298.8L539.9 1288.7L542.7 1278.6L545.5 1270.0L548.7 1264.2L552.2 1258.6L556.6 1253.0L559.2 1250.2L560.3 1248.2L561.6 1246.9L562.8 1244.8L565.2 1241.9L566.4 1240.0L571.5 1227.8L573.4 1224.6L575.5 1220.4L578.1 1215.9L586.4 1207.4L591.0 1196.5L601.2 1186.4L608.9 1183.3L610.6 1181.6L612.0 1180.7L613.6 1179.2L615.1 1178.4L616.7 1177.2L629.5 1164.5L631.0 1163.9L634.5 1161.2L638.1 1159.4L639.9 1157.8L641.6 1156.8L644.8 1153.9L646.3 1152.9L649.4 1150.0L652.6 1147.5L654.6 1145.4L657.2 1143.9L660.6 1140.5L661.9 1139.8L663.9 1137.8L668.8 1134.4L677.5 1129.3L680.8 1126.0L683.8 1124.0L686.9 1121.0L688.7 1120.2L690.6 1119.0L696.2 1116.3L698.4 1115.7L702.8 1113.5L705.0 1112.8L707.1 1111.6L711.5 1110.3L713.7 1110.1L718.1 1108.5L720.1 1107.1L722.2 1105.2L724.3 1103.8L726.5 1103.5L730.9 1101.7L733.0 1101.7L735.2 1100.7L742.5 1096.2L748.0 1093.6L749.8 1092.1L757.1 1088.2L759.1 1087.3L761.2 1086.9L763.3 1085.7L769.5 1083.5L774.5 1078.4L775.8 1077.5L782.2 1071.0L786.2 1069.1L788.2 1067.8L790.3 1067.2L796.2 1063.9L798.0 1062.5L799.7 1061.8L803.3 1059.9L805.0 1059.3L806.8 1058.3L808.5 1057.0L810.5 1055.1L814.4 1052.7L816.3 1050.8L818.7 1050.0L821.0 1048.9L823.3 1048.7L827.5 1046.6L829.3 1046.0L834.8 1042.8L841.9 1038.0L843.7 1037.5L847.5 1034.8L853.7 1032.2L855.9 1030.8L858.1 1030.2L862.1 1028.6L867.6 1025.5L869.4 1025.1L873.1 1022.6L874.9 1021.8L876.8 1020.7L878.7 1019.1L882.7 1017.9L884.9 1016.3L887.1 1016.0L889.3 1015.0L891.5 1013.7L893.3 1013.1L895.1 1012.2L896.9 1010.9L900.6 1009.0L902.4 1008.3L904.5 1007.8L906.5 1006.3L908.6 1005.6L910.7 1005.5L914.9 1003.6L919.0 1002.1L921.1 1000.9L923.2 1000.2L925.3 999.0L929.4 997.5L931.5 996.0L937.7 993.8L941.9 991.7L946.0 990.3L950.2 987.9L954.4 986.3L956.4 986.5L958.5 985.6L964.8 984.1L966.8 982.9L973.1 980.3L975.2 979.8L981.6 976.4L983.8 976.1L990.2 973.1L992.3 973.0L998.6 971.6L1005.0 969.0L1007.2 968.7L1011.6 966.9L1013.6 966.6L1015.7 965.6L1019.9 965.0L1021.9 964.2L1028.2 963.0L1030.3 962.8L1032.3 962.1L1036.5 961.5L1038.1 960.4L1041.6 956.8L1042.7 956.0L1044.9 956.4L1047.1 956.3L1049.3 957.2L1051.5 957.1L1053.7 957.6L1055.7 957.2L1059.9 955.3L1064.1 954.5L1066.1 953.7L1070.1 953.1L1072.1 952.6L1074.2 952.7L1076.2 951.7L1078.2 951.9L1082.2 950.7L1084.3 950.8L1086.4 950.2L1094.8 949.8L1097.0 949.0L1103.6 948.2L1107.6 944.2L1107.8 943.4L1109.3 943.4L1111.4 943.8L1122.3 943.2L1124.6 942.3L1127.0 942.0L1129.0 940.3L1133.2 938.1L1135.3 938.0L1137.4 937.0L1139.4 936.7L1141.5 936.8L1143.6 935.8L1147.8 935.8L1149.8 935.0L1154.0 934.8L1156.1 934.1L1158.1 934.2L1160.0 935.1L1162.3 935.0L1164.7 934.3L1167.0 934.2L1169.4 933.6L1171.5 933.6L1173.7 932.9L1175.9 933.4L1178.1 933.2L1182.5 932.4L1184.6 932.6L1186.8 932.1L1191.2 932.0L1193.1 931.6L1195.1 930.8L1199.0 929.7L1201.4 927.2L1202.7 927.0L1204.9 927.6L1207.1 927.4L1209.3 927.6L1213.6 926.8L1215.8 927.2L1218.0 926.5L1220.2 926.8L1222.4 926.6L1224.6 926.0L1226.7 926.3L1228.9 925.3L1231.1 925.3L1239.8 924.2L1242.0 924.5L1246.6 924.0L1248.9 922.9L1251.2 922.8L1253.6 921.9L1257.7 921.4L1261.9 921.7L1268.4 920.8L1270.7 920.0L1275.4 919.5L1279.4 915.5L1280.7 913.2L1284.8 917.2L1291.8 918.1L1294.1 918.0L1296.3 918.3L1300.7 917.7L1302.9 918.4L1309.4 917.5L1311.6 917.8L1316.0 917.2L1318.1 917.4L1320.3 917.1L1322.5 917.1L1324.7 916.3L1329.2 916.6L1331.6 916.1L1336.2 915.6L1341.4 914.4L1344.0 914.1L1347.8 910.3L1348.7 909.8L1350.5 907.9L1352.3 908.6L1356.5 911.0L1358.6 911.2L1360.7 911.0L1366.9 911.4L1369.0 911.7L1371.1 911.4L1373.1 911.9L1377.3 911.6L1379.4 912.1L1381.5 911.7L1385.6 910.0L1387.7 909.4L1389.8 909.3L1391.9 908.2L1393.9 907.8L1397.2 904.8L1399.0 905.8L1400.9 905.9L1402.9 907.3L1404.8 907.8L1409.2 907.5L1411.4 907.7L1413.6 907.2L1419.9 906.4L1422.0 907.0L1424.1 906.5L1426.2 906.6L1428.2 906.3L1432.4 906.4L1436.6 906.1L1438.6 905.6L1443.1 905.6L1445.4 905.0L1447.7 904.6L1452.2 904.8L1454.2 904.4L1456.3 905.1L1458.4 904.6L1462.6 904.7L1464.5 903.8L1470.3 901.6L1474.3 897.6L1474.8 896.7L1478.1 900.0L1480.0 900.0L1482.1 900.2L1484.2 899.6L1486.2 899.5L1488.3 899.8L1490.4 899.2L1498.7 899.0L1500.8 899.3L1502.9 899.0L1511.0 899.7L1515.0 899.7L1517.0 900.2L1521.1 899.9L1529.4 897.9L1533.6 897.6L1535.8 897.0L1538.0 896.9L1540.2 896.3L1542.4 896.1L1546.5 895.9L1548.6 896.6L1550.7 896.4L1554.9 896.8L1561.4 896.3L1567.9 894.8L1569.9 895.1L1572.0 894.1L1576.2 894.3L1578.3 893.7L1580.4 894.0L1582.6 893.8L1584.8 894.0L1587.0 893.5L1589.2 893.7L1592.3 890.6L1593.5 890.7L1597.6 892.3L1599.6 892.1L1601.6 892.9L1605.8 892.9L1607.9 892.7L1610.0 893.2L1612.0 892.6L1614.1 892.9L1616.1 892.6L1618.1 893.3L1620.1 892.5L1626.2 893.2L1630.3 892.6L1634.7 892.7L1639.1 892.2L1641.2 892.6L1643.2 892.0L1645.3 892.6L1647.4 892.3L1649.5 893.1L1653.6 892.6L1659.9 893.0L1661.9 892.5L1664.0 892.9L1666.1 892.9L1668.2 892.4L1670.3 892.4L1672.3 892.1L1674.4 892.5L1676.5 892.2L1678.6 892.6L1680.7 892.6L1684.8 892.5L1686.9 893.2L1689.0 892.9L1693.1 893.1L1695.2 892.5L1697.3 892.7L1701.5 892.2L1703.5 891.1L1707.7 888.3L1709.8 889.5L1713.9 891.4L1716.5 890.7L1723.9 889.5L1726.1 890.0L1730.5 889.6L1734.8 889.9L1739.2 889.2L1741.4 889.5L1743.6 889.0L1748.0 884.5L1754.9 885.3L1758.8 887.3L1762.9 887.5L1765.1 887.9L1767.3 887.1L1769.5 887.1L1771.6 887.5L1773.8 886.7L1776.0 886.2L1778.2 886.3L1780.4 886.0L1782.6 885.1L1784.9 885.5L1789.6 885.6L1791.9 885.9L1796.1 886.7L1798.1 887.5L1800.0 887.0L1804.2 886.9L1806.2 887.6L1810.4 887.5L1814.7 887.9L1816.8 887.3L1819.0 887.6L1833.8 885.4L1835.9 884.6L1840.2 884.7L1842.4 884.0L1844.6 884.4L1846.8 883.9L1848.9 884.2L1853.0 883.5L1855.1 884.2L1857.2 883.8L1859.3 883.9L1861.9 883.2L1864.5 883.2L1867.1 882.3L1869.2 882.3L1871.4 883.0L1873.6 883.0L1875.8 883.8L1882.1 883.5L1888.4 884.1L1892.5 883.8L1898.8 884.4L1900.9 884.2L1902.9 884.6L1907.6 884.9L1912.3 884.6L1915.4 883.1L1917.5 882.9L1919.6 883.1L1921.6 882.7L1925.8 883.3L1930.0 882.7L1934.1 883.4L1936.2 882.9L1942.4 883.2L1944.5 882.8L1948.7 883.2L1954.9 882.9L1957.0 883.1L1961.2 883.9L1963.2 883.5L1965.3 883.9L1967.5 883.8L1971.9 883.2L1978.6 882.9L1980.9 882.3L1984.6 878.6L1990.3 880.7L1992.3 880.6L1994.4 880.9L1996.5 880.9L1998.6 881.2L2000.7 881.0L2002.7 881.5L2011.1 881.3L2013.1 880.7L2017.3 880.8L2019.4 880.4L2021.5 880.5L2027.7 880.0L2029.8 880.1L2031.9 880.8L2033.9 880.7L2036.0 881.2L2038.1 881.0L2040.2 881.5L2042.2 881.6L2044.3 881.0L2050.6 881.0L2052.6 880.7L2054.7 881.0L2056.8 880.9L2062.2 881.6L2064.5 880.9L2066.7 881.1L2068.9 880.8L2073.4 880.8L2077.8 881.3L2080.1 880.6L2082.3 881.1L2084.5 881.0L2086.7 881.2L2089.0 881.2L2093.4 880.7L2095.6 881.4L2097.9 880.8L2102.3 881.0L2104.6 881.4L2111.2 881.4L2113.5 880.9L2115.7 881.1L2117.9 880.9L2120.2 881.4L2122.4 880.9L2126.8 881.1L2133.5 880.6L2140.2 881.1L2142.4 880.7L2144.7 880.9L2149.1 880.7L2155.9 881.0L2158.3 881.4L2162.9 881.2L2165.3 881.3L2170.5 880.3L2175.1 879.9L2179.1 880.2L2181.1 879.3L2185.0 879.4L2185.0 871.4L2181.1 871.3L2179.1 872.2L2175.1 871.9L2170.5 872.3L2165.3 873.3L2162.9 873.2L2158.3 873.4L2155.9 873.0L2149.1 872.7L2144.7 872.9L2142.4 872.7L2140.2 873.1L2135.7 872.7L2131.3 872.6L2126.8 873.1L2122.4 872.9L2120.2 873.4L2117.9 872.9L2115.7 873.1L2113.5 872.9L2111.2 873.4L2104.6 873.4L2102.3 873.0L2097.9 872.8L2095.6 873.4L2093.4 872.7L2089.0 873.2L2082.3 873.1L2080.1 872.6L2077.8 873.3L2073.4 872.8L2068.9 872.8L2066.7 873.1L2064.5 872.9L2062.2 873.6L2056.8 872.9L2054.7 873.0L2052.6 872.7L2050.6 873.0L2044.3 873.0L2042.2 873.6L2040.2 873.5L2038.1 873.0L2036.0 873.2L2033.9 872.7L2031.9 872.8L2029.8 872.1L2027.7 872.0L2021.5 872.5L2019.4 872.4L2017.3 872.8L2013.1 872.7L2011.1 873.3L2002.7 873.5L2000.7 873.0L1998.6 873.2L1996.5 872.9L1994.4 872.9L1992.3 872.6L1990.3 872.7L1984.0 870.4L1979.8 874.6L1978.6 874.9L1971.9 875.2L1967.5 875.8L1965.3 875.9L1963.2 875.5L1961.2 875.9L1957.0 875.1L1954.9 874.9L1948.7 875.2L1944.5 874.8L1942.4 875.2L1936.2 874.9L1934.1 875.4L1930.0 874.7L1925.8 875.3L1921.6 874.7L1919.6 875.1L1917.5 874.9L1915.4 875.1L1912.3 876.6L1907.6 876.9L1902.9 876.6L1900.9 876.2L1898.8 876.4L1892.5 875.8L1888.4 876.1L1882.1 875.5L1875.8 875.8L1873.6 875.0L1871.4 875.0L1869.2 874.3L1867.1 874.3L1864.5 875.2L1861.9 875.2L1859.3 875.9L1857.2 875.8L1855.1 876.2L1853.0 875.5L1848.9 876.2L1846.8 875.9L1844.6 876.4L1842.4 876.0L1840.2 876.7L1835.9 876.6L1833.8 877.4L1819.0 879.6L1816.8 879.3L1814.7 879.9L1810.4 879.5L1806.2 879.6L1804.2 878.9L1800.0 879.0L1798.1 879.5L1796.1 878.7L1791.9 877.9L1789.6 877.6L1784.9 877.5L1782.6 877.1L1780.4 878.0L1778.2 878.3L1776.0 878.2L1773.8 878.7L1771.6 879.5L1769.5 879.1L1767.3 879.1L1765.1 879.9L1762.9 879.5L1758.8 879.3L1754.9 877.3L1746.7 876.4L1742.7 880.4L1742.1 881.4L1741.4 881.5L1739.2 881.2L1734.8 881.9L1730.5 881.6L1726.1 882.0L1723.9 881.5L1716.5 882.7L1713.9 883.4L1709.8 881.5L1707.7 880.3L1703.5 883.1L1701.5 884.2L1697.3 884.7L1695.2 884.5L1693.1 885.1L1689.0 884.9L1686.9 885.2L1684.8 884.5L1680.7 884.6L1678.6 884.6L1676.5 884.2L1674.4 884.5L1672.3 884.1L1670.3 884.4L1668.2 884.4L1666.1 884.9L1664.0 884.9L1661.9 884.5L1659.9 885.0L1653.6 884.6L1649.5 885.1L1647.4 884.3L1645.3 884.6L1643.2 884.0L1641.2 884.6L1639.1 884.2L1634.7 884.7L1630.3 884.6L1626.2 885.2L1620.1 884.5L1618.1 885.3L1616.1 884.6L1614.1 884.9L1612.0 884.6L1610.0 885.2L1607.9 884.7L1605.8 884.9L1601.6 884.9L1599.6 884.1L1597.6 884.3L1593.5 882.7L1591.5 882.6L1588.5 885.6L1587.0 885.5L1584.8 886.0L1582.6 885.8L1580.4 886.0L1578.3 885.7L1576.2 886.3L1572.0 886.1L1569.9 887.1L1567.9 886.8L1561.4 888.3L1554.9 888.8L1550.7 888.4L1548.6 888.6L1546.5 887.9L1542.4 888.1L1540.2 888.3L1538.0 888.9L1535.8 889.0L1533.6 889.6L1529.4 889.9L1521.1 891.9L1517.0 892.2L1515.0 891.7L1511.0 891.7L1502.9 891.0L1500.8 891.3L1498.7 891.0L1490.4 891.2L1488.3 891.8L1486.2 891.5L1484.2 891.6L1482.1 892.2L1480.0 892.0L1478.3 892.0L1473.5 887.4L1469.5 891.4L1468.4 893.1L1467.8 894.6L1462.6 896.7L1458.4 896.6L1456.3 897.1L1454.2 896.4L1452.2 896.8L1447.7 896.6L1445.4 897.0L1443.1 897.6L1438.6 897.6L1436.6 898.1L1432.4 898.4L1428.2 898.3L1426.2 898.6L1424.1 898.5L1422.0 899.0L1419.9 898.4L1413.6 899.2L1411.4 899.7L1409.2 899.5L1404.8 899.8L1402.9 899.3L1400.9 897.9L1399.0 897.8L1397.1 896.7L1393.9 899.8L1391.9 900.2L1389.8 901.3L1387.7 901.4L1385.6 902.0L1381.5 903.7L1379.4 904.1L1377.3 903.6L1373.1 903.9L1371.1 903.4L1369.0 903.7L1366.9 903.4L1360.7 903.0L1358.6 903.2L1356.5 903.0L1352.3 900.6L1350.3 899.8L1343.7 906.1L1341.4 906.4L1336.2 907.6L1331.6 908.1L1329.2 908.6L1324.7 908.3L1322.5 909.1L1320.3 909.1L1318.1 909.4L1316.0 909.2L1311.6 909.8L1309.4 909.5L1302.9 910.4L1300.7 909.7L1296.3 910.3L1294.1 910.0L1291.8 910.1L1285.1 909.2L1280.1 904.5L1276.1 908.5L1273.7 911.8L1270.7 912.0L1268.4 912.8L1261.9 913.7L1257.7 913.4L1253.6 913.9L1251.2 914.8L1248.9 914.9L1246.6 916.0L1242.0 916.5L1239.8 916.2L1231.1 917.3L1228.9 917.3L1226.7 918.3L1224.6 918.0L1222.4 918.6L1220.2 918.8L1218.0 918.5L1215.8 919.2L1213.6 918.8L1209.3 919.6L1207.1 919.4L1204.9 919.6L1202.7 919.0L1200.5 919.3L1197.9 922.0L1195.1 922.8L1193.1 923.6L1191.2 924.0L1186.8 924.1L1184.6 924.6L1182.5 924.4L1178.1 925.2L1175.9 925.4L1173.7 924.9L1171.5 925.6L1169.4 925.6L1167.0 926.2L1164.7 926.3L1162.3 927.0L1160.0 927.1L1158.1 926.2L1156.1 926.1L1154.0 926.8L1149.8 927.0L1147.8 927.8L1143.6 927.8L1141.5 928.8L1139.4 928.7L1137.4 929.0L1135.3 930.0L1133.2 930.1L1129.0 932.3L1127.0 934.0L1124.6 934.3L1122.3 935.2L1111.4 935.8L1109.3 935.4L1105.1 935.5L1101.1 939.5L1100.8 940.6L1097.0 941.0L1094.8 941.8L1086.4 942.2L1084.3 942.8L1082.2 942.7L1078.2 943.9L1076.2 943.7L1074.2 944.7L1072.1 944.6L1070.1 945.1L1066.1 945.7L1064.1 946.5L1059.9 947.3L1055.7 949.2L1053.7 949.6L1051.5 949.1L1049.3 949.2L1047.1 948.3L1044.9 948.4L1042.7 948.0L1041.2 949.1L1036.5 953.5L1032.3 954.1L1030.3 954.8L1028.2 955.0L1021.9 956.2L1019.9 957.0L1015.7 957.6L1013.6 958.6L1011.6 958.9L1007.2 960.7L1005.0 961.0L998.6 963.6L992.3 965.0L990.2 965.1L983.8 968.1L981.6 968.4L975.2 971.8L973.1 972.3L966.8 974.9L964.8 976.1L958.5 977.6L956.4 978.5L954.4 978.3L950.2 979.9L946.0 982.3L941.9 983.7L937.7 985.8L931.5 988.0L929.4 989.5L925.3 991.0L923.2 992.2L921.1 992.9L919.0 994.1L914.9 995.6L910.7 997.5L908.6 997.6L906.5 998.3L904.5 999.8L902.4 1000.3L900.6 1001.0L896.9 1002.9L895.1 1004.2L893.3 1005.1L891.5 1005.7L889.3 1007.0L887.1 1008.0L884.9 1008.3L882.7 1009.9L878.7 1011.1L876.8 1012.7L874.9 1013.8L873.1 1014.6L869.4 1017.1L867.6 1017.5L862.1 1020.6L858.1 1022.2L855.9 1022.8L853.7 1024.2L847.5 1026.8L843.7 1029.5L841.9 1030.0L834.8 1034.8L829.3 1038.0L827.5 1038.6L823.3 1040.7L821.0 1040.9L818.7 1042.0L816.3 1042.8L814.4 1044.7L810.5 1047.1L808.5 1049.0L806.8 1050.3L805.0 1051.3L803.3 1051.9L799.7 1053.8L798.0 1054.5L796.2 1055.9L790.3 1059.2L788.2 1059.8L786.2 1061.1L782.0 1063.1L769.1 1075.7L763.3 1077.7L761.2 1078.9L759.1 1079.3L757.1 1080.2L749.8 1084.1L748.0 1085.6L742.5 1088.2L735.2 1092.7L733.0 1093.7L730.9 1093.7L726.5 1095.5L724.3 1095.8L722.2 1097.2L720.1 1099.1L718.1 1100.5L713.7 1102.1L711.5 1102.3L707.1 1103.6L705.0 1104.8L702.8 1105.5L698.4 1107.7L696.2 1108.3L690.6 1111.0L688.7 1112.2L686.9 1113.0L685.3 1114.1L682.8 1116.6L679.1 1119.5L676.7 1121.8L668.8 1126.4L663.5 1130.1L661.7 1131.9L660.4 1132.6L657.0 1136.0L654.1 1137.8L651.8 1140.1L649.4 1142.0L646.3 1144.9L644.8 1145.9L641.6 1148.8L639.9 1149.8L638.1 1151.4L634.5 1153.2L631.0 1155.9L629.2 1156.6L627.1 1158.7L626.0 1159.4L615.1 1170.4L613.6 1171.2L612.0 1172.7L610.5 1173.7Z"/>
</g>
<g id="legend">
<g fill="#000" shape-rendering="crispEdges"><rect x="336" y="86" width="613" height="3"/><rect x="336" y="387" width="613" height="3"/><rect x="336" y="86" width="2" height="304"/><rect x="947" y="86" width="2" height="304"/></g>
<line x1="347.5" y1="141" x2="522.5" y2="141" stroke="#000080" stroke-width="8" stroke-linecap="round" shape-rendering="crispEdges"/>
<text class="lg" x="545" y="167.3">1</text>
<line x1="676" y1="141" x2="851" y2="141" stroke="#0000ff" stroke-width="8" stroke-linecap="round" shape-rendering="crispEdges"/>
<text class="lg" x="873.5" y="167.3">2</text>
<line x1="347.5" y1="238" x2="522.5" y2="238" stroke="#ff0000" stroke-width="8" stroke-linecap="round" shape-rendering="crispEdges"/>
<text class="lg" x="545" y="264.3">3</text>
<line x1="676" y1="238" x2="851" y2="238" stroke="#999900" stroke-width="8" stroke-linecap="round" shape-rendering="crispEdges"/>
<text class="lg" x="873.5" y="264.3">4</text>
<line x1="347.5" y1="334.7" x2="522.5" y2="334.7" stroke="#888888" stroke-width="8" stroke-linecap="round" shape-rendering="crispEdges"/>
<text class="lg" x="545" y="361">5</text>
</g>
<g id="inset-axes" stroke="#000" stroke-width="3" fill="none" shape-rendering="crispEdges">
<rect x="1412.7" y="82.3" width="726.8" height="598.2"/>
<line x1="1400.5" y1="82.3" x2="1412.7" y2="82.3"/>
<line x1="1406.3" y1="157.1" x2="1412.7" y2="157.1"/>
<line x1="1400.5" y1="231.9" x2="1412.7" y2="231.9"/>
<line x1="1406.3" y1="306.6" x2="1412.7" y2="306.6"/>
<line x1="1400.5" y1="381.4" x2="1412.7" y2="381.4"/>
<line x1="1406.3" y1="456.2" x2="1412.7" y2="456.2"/>
<line x1="1400.5" y1="531.0" x2="1412.7" y2="531.0"/>
<line x1="1406.3" y1="605.7" x2="1412.7" y2="605.7"/>
<line x1="1400.5" y1="680.5" x2="1412.7" y2="680.5"/>
<line x1="1412.7" y1="680.5" x2="1412.7" y2="686.5"/>
<line x1="1485.1" y1="680.5" x2="1485.1" y2="692.5"/>
<line x1="1557.6" y1="680.5" x2="1557.6" y2="686.5"/>
<line x1="1630.2" y1="680.5" x2="1630.2" y2="692.5"/>
<line x1="1702.8" y1="680.5" x2="1702.8" y2="686.5"/>
<line x1="1775.3" y1="680.5" x2="1775.3" y2="692.5"/>
<line x1="1847.9" y1="680.5" x2="1847.9" y2="686.5"/>
<line x1="1920.5" y1="680.5" x2="1920.5" y2="692.5"/>
<line x1="1993.0" y1="680.5" x2="1993.0" y2="686.5"/>
<line x1="2065.6" y1="680.5" x2="2065.6" y2="692.5"/>
<line x1="2139.5" y1="680.5" x2="2139.5" y2="686.5"/>
</g>
<g id="inset-tick-labels" class="itk">
<text x="1393" y="89.6" text-anchor="end">0.00</text>
<text x="1393" y="239.2" text-anchor="end">-0.02</text>
<text x="1393" y="388.7" text-anchor="end">-0.04</text>
<text x="1393" y="538.2" text-anchor="end">-0.06</text>
<text x="1393" y="687.8" text-anchor="end">-0.08</text>
<text x="1484.8" y="719.8" text-anchor="middle">0</text>
<text x="1629.9" y="719.8" text-anchor="middle">200</text>
<text x="1775.0" y="719.8" text-anchor="middle">400</text>
<text x="1920.2" y="719.8" text-anchor="middle">600</text>
<text x="2065.3" y="719.8" text-anchor="middle">800</text>
</g>
<text class="ittl" x="1775.3" y="767" text-anchor="middle">Time (s)</text>
<text class="ittl" transform="translate(1307,587.5) rotate(-90)" x="0" y="0">Current density (mA/Cm<tspan dy="-14" font-size="20.5">2</tspan><tspan dy="14">)</tspan></text>
<g id="inset-guides" fill="none" stroke="#888888" shape-rendering="crispEdges">
<line x1="1413.5" y1="217.5" x2="1848" y2="215.2" stroke-width="4" stroke-linecap="round" stroke-dasharray="13 11 0.5 10.7"/>
<rect x="1411" y="215.5" width="4" height="4" fill="#888888" stroke="none"/>
<line x1="1849.2" y1="216" x2="1849.2" y2="680" stroke-width="2" stroke-dasharray="19.5 2.3 2 2.3" stroke-dashoffset="6.7"/>
</g>
<path id="inset-curve" fill="none" stroke="#000" stroke-width="3.5" stroke-linecap="round" stroke-linejoin="round" shape-rendering="crispEdges" d="M1495.4 679.1L1495.7 676.0L1496.0 672.9L1496.3 669.8L1496.7 666.8L1497.0 663.7L1497.3 660.6L1497.6 657.6L1497.9 654.5L1498.2 651.4L1498.5 648.3L1499.2 645.0L1499.9 641.7L1500.5 638.3L1501.2 635.0L1501.9 631.6L1502.5 628.3L1503.2 624.9L1503.9 621.6L1504.5 618.3L1505.2 614.9L1505.9 611.6L1506.5 608.2L1507.2 604.9L1507.9 601.6L1508.6 598.2L1509.2 594.9L1509.9 591.5L1510.6 588.2L1511.2 584.8L1511.9 581.5L1512.6 578.2L1513.2 574.8L1513.9 571.5L1514.6 568.1L1515.2 564.8L1515.9 561.4L1516.6 558.1L1517.2 554.8L1518.0 551.6L1518.8 548.5L1519.6 545.4L1520.4 542.3L1521.1 539.2L1521.9 536.0L1522.6 532.9L1523.3 529.8L1523.9 526.7L1524.6 523.6L1525.3 520.5L1525.9 517.3L1526.6 514.2L1527.6 511.1L1528.7 508.0L1529.7 504.9L1530.8 501.7L1531.8 498.6L1532.8 495.5L1533.9 492.4L1534.9 489.3L1536.0 486.1L1537.0 483.0L1538.0 479.9L1539.1 476.8L1540.0 473.9L1541.0 470.9L1542.0 468.0L1543.0 465.1L1543.9 462.2L1544.9 459.2L1545.9 456.3L1546.9 453.4L1548.0 450.5L1549.2 447.5L1550.4 444.6L1551.6 441.7L1552.7 438.8L1553.9 435.8L1555.1 432.9L1556.2 430.0L1557.5 426.4L1558.7 423.3L1559.9 420.2L1561.0 417.1L1562.2 413.9L1563.8 410.3L1565.3 406.7L1566.9 403.0L1568.4 399.4L1570.0 395.7L1571.6 392.1L1572.8 389.0L1574.1 385.9L1575.4 382.7L1576.4 379.6L1577.4 376.5L1578.4 373.4L1579.3 370.3L1580.9 367.5L1582.5 364.8L1584.0 362.1L1585.6 359.3L1586.8 356.5L1588.1 353.7L1589.3 350.9L1590.6 348.1L1591.8 345.3L1593.9 342.7L1596.0 340.1L1598.1 337.5L1600.1 334.4L1602.2 331.3L1604.3 328.2L1605.9 325.0L1607.4 321.9L1609.0 318.8L1611.6 316.7L1614.2 314.6L1616.8 312.6L1618.3 309.4L1619.9 306.3L1621.5 303.2L1624.1 301.6L1626.7 300.1L1629.3 298.5L1630.8 295.9L1632.4 293.3L1633.9 290.7L1636.0 288.4L1638.1 286.0L1640.2 283.7L1644.8 281.4L1646.9 278.8L1649.0 276.2L1651.1 273.6L1654.2 271.2L1657.3 268.9L1662.0 267.3L1665.1 264.2L1668.2 261.1L1671.4 259.9L1674.5 258.8L1677.1 256.7L1679.7 254.6L1682.3 252.5L1685.4 253.3L1688.5 254.1L1692.4 253.7L1696.3 253.3L1698.4 250.7L1700.5 248.1L1702.6 245.5L1705.7 243.2L1708.8 240.8L1712.7 240.8L1716.6 240.8L1719.7 239.9L1722.8 239.0L1720.0 239.0L1723.5 238.8L1726.9 238.6L1730.4 238.4L1733.5 236.6L1736.6 234.8L1740.1 234.3L1743.6 233.7L1747.0 233.2L1750.5 234.1L1754.0 235.0L1757.4 235.9L1761.6 234.2L1764.4 231.7L1767.1 229.1L1769.9 226.5L1773.5 224.7L1777.2 222.8L1780.8 225.4L1784.5 228.0L1788.6 227.5L1792.8 226.9L1796.4 226.9L1800.1 226.9L1803.7 226.9L1807.3 226.9L1810.1 225.6L1812.9 224.2L1815.7 222.8L1818.4 221.4L1821.2 220.0L1824.0 218.6L1828.1 218.6L1832.3 218.6L1836.4 220.2L1840.6 221.7L1843.4 220.4L1846.1 219.0L1848.9 217.6L1853.1 216.9L1857.2 216.1L1861.4 217.2L1865.6 218.2L1869.2 218.9L1872.8 219.7L1876.5 217.9L1880.1 216.1L1882.9 214.9L1885.7 213.6L1888.4 212.4L1891.9 212.7L1895.4 213.1L1898.8 213.4L1901.9 212.9L1905.1 212.4L1909.2 213.2L1913.4 214.0L1916.5 213.7L1919.6 213.4L1923.8 214.8L1927.9 216.1L1932.1 215.3L1936.3 214.5L1939.4 216.0L1942.5 217.6L1946.1 215.5L1949.8 213.4L1952.9 214.6L1956.0 215.8L1959.1 217.0L1962.2 216.6L1965.4 216.2L1968.5 215.9L1971.6 215.5L1974.7 213.7L1977.8 212.0L1981.3 212.1L1984.8 212.2L1988.2 212.4L1992.4 213.6L1996.6 214.9L2000.7 214.1L2004.9 213.4L2009.0 212.5L2013.2 211.6L2017.4 212.8L2021.5 214.0L2025.0 214.3L2028.4 214.6L2031.9 214.9L2036.1 213.8L2040.2 212.8L2043.7 213.1L2047.2 213.4L2050.6 213.6L2054.8 213.5L2058.9 213.4L2062.4 212.7L2065.9 212.0L2069.3 211.3"/>
</svg>
</body>
</html>
